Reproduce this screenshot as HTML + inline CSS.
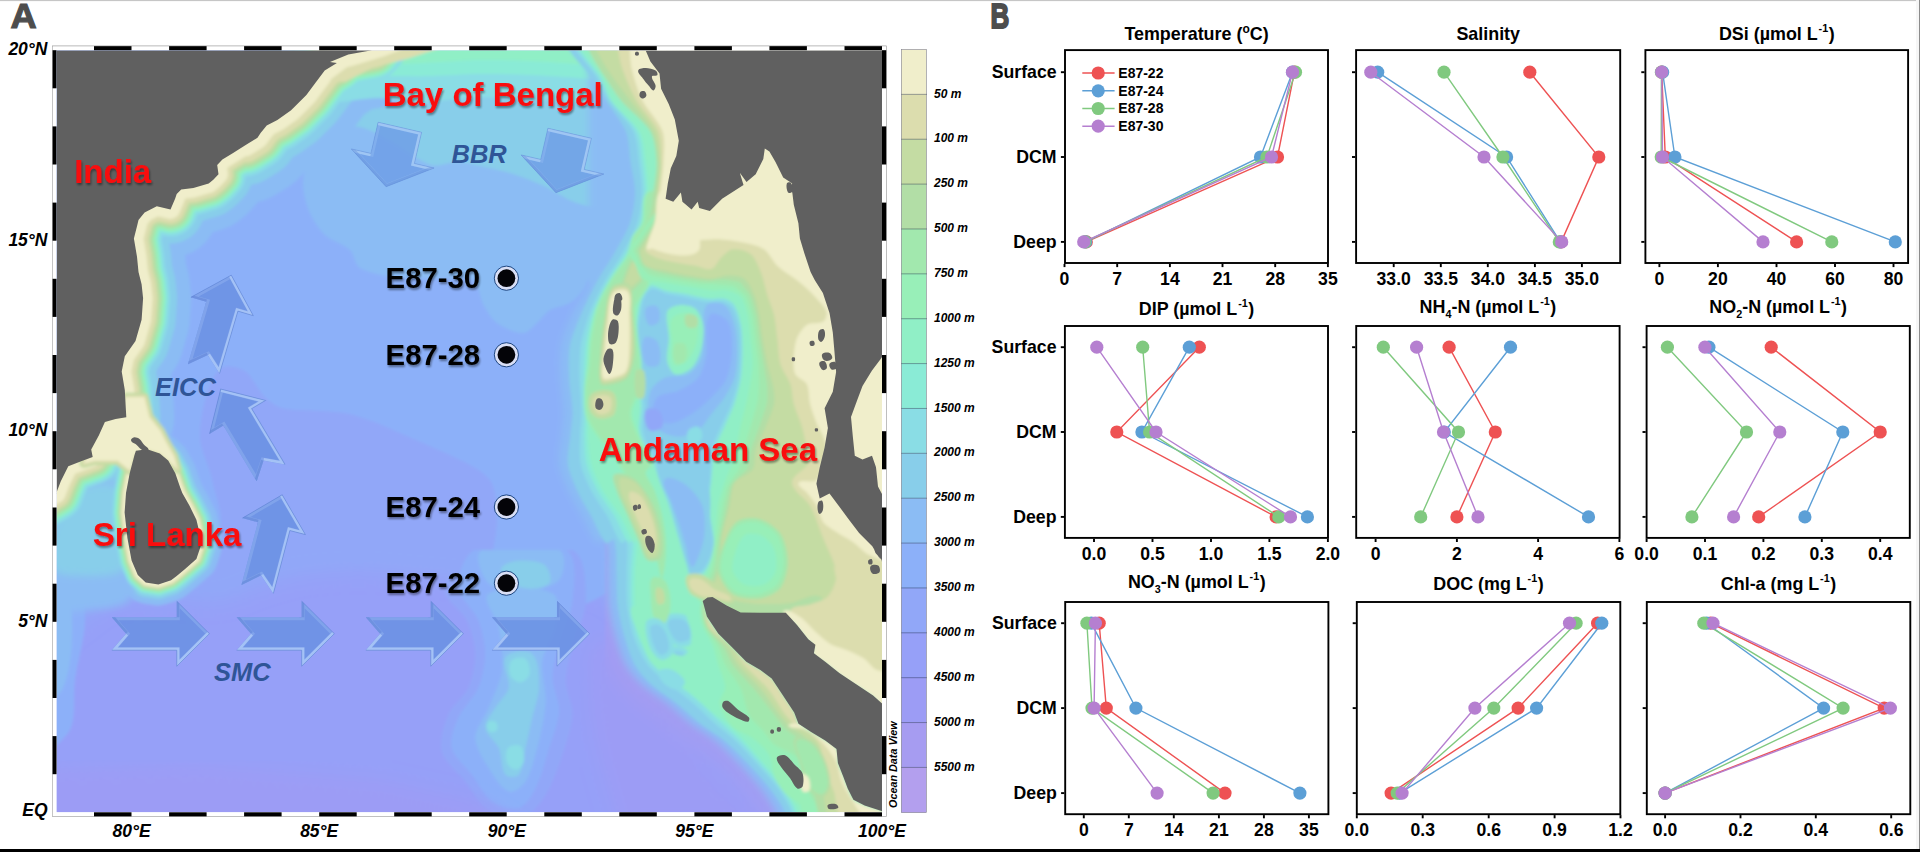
<!DOCTYPE html><html><head><meta charset="utf-8"><title>Figure</title>
<style>html,body{margin:0;padding:0;background:#fff}svg{display:block}text{font-family:"Liberation Sans",Arial,sans-serif}</style></head><body>
<svg width="1920" height="852" viewBox="0 0 1920 852">
<defs>
<filter id="bl" x="-5%" y="-5%" width="110%" height="110%"><feGaussianBlur stdDeviation="1.6"/></filter>
<filter id="bl3" x="-5%" y="-5%" width="110%" height="110%"><feGaussianBlur stdDeviation="9"/></filter>
<filter id="bl4" x="-10%" y="-10%" width="120%" height="120%"><feGaussianBlur stdDeviation="3.5"/></filter>
<filter id="bl2" x="-5%" y="-5%" width="110%" height="110%"><feGaussianBlur stdDeviation="0.5"/></filter>
<filter id="ds" x="-10%" y="-20%" width="125%" height="150%"><feGaussianBlur in="SourceAlpha" stdDeviation="1.1"/><feOffset dx="1.3" dy="1.5"/><feComponentTransfer><feFuncA type="linear" slope="0.42"/></feComponentTransfer><feMerge><feMergeNode/><feMergeNode in="SourceGraphic"/></feMerge></filter>
<clipPath id="mc"><rect x="56.5" y="50.2" width="825.5" height="762.0999999999999"/></clipPath>
</defs>
<rect width="1920" height="852" fill="#fff"/>
<g clip-path="url(#mc)">
<rect x="40" y="30" width="870" height="800" fill="#96a0f8"/>
<g filter="url(#bl)">
<rect x="40" y="30" width="870" height="800" fill="#96a0f8"/>
<path d="M40.0,650.0 C40.7,661.7 65.2,634.4 75.0,628.0 C85.0,621.4 98.6,607.8 110.0,604.0 C123.5,599.6 145.8,600.3 160.0,600.0 C177.0,599.7 203.1,604.0 220.0,602.0 C231.9,600.6 248.5,591.6 260.0,588.0 C271.2,584.5 288.4,578.9 300.0,577.0 C316.8,574.3 342.9,572.0 360.0,572.0 C377.1,572.0 403.0,575.6 420.0,577.0 C437.0,578.4 463.0,580.8 480.0,582.0 L560.0,587.0 C571.4,588.1 589.3,589.7 600.0,594.0 C609.6,597.9 623.0,607.3 630.0,615.0 C640.3,626.3 650.9,647.7 660.0,660.0 C670.8,674.6 688.3,696.2 700.0,710.0 C712.3,724.5 733.6,744.8 745.0,760.0 L790.0,830.0 L900.0,830.0 L900.0,30.0 L40.0,30.0 L40.0,650.0Z" fill="#91a7f8" filter="url(#bl3)"/>
<path d="M215.0,530.0 C228.6,526.0 214.3,494.0 212.0,480.0 C210.1,468.3 201.0,451.8 200.0,440.0 C199.0,428.6 201.8,411.0 205.0,400.0 C207.8,390.3 212.8,373.9 221.0,368.0 C226.5,364.0 239.3,367.3 245.0,371.0 C252.5,375.9 257.7,389.7 264.0,396.0 C268.3,400.3 276.0,406.5 282.0,408.0 C293.9,410.9 312.8,409.9 325.0,411.0 C332.1,411.6 343.1,412.3 350.0,414.0 C359.3,416.3 373.1,421.4 382.0,425.0 L448.0,454.0 C460.5,460.4 481.7,468.8 490.0,480.0 C496.9,489.2 496.7,508.5 497.0,520.0 C497.3,531.4 493.0,548.6 492.0,560.0 C491.0,571.3 488.9,588.7 490.0,600.0 C491.2,611.6 493.0,630.7 500.0,640.0 C503.4,644.5 514.9,642.4 520.0,640.0 C532.5,634.1 547.8,618.6 560.0,612.0 C567.9,607.7 582.0,606.1 590.0,602.0 C597.0,598.4 610.5,592.7 612.0,585.0 C614.5,572.2 605.3,552.6 602.0,540.0 C599.0,528.5 578.3,501.6 590.0,500.0 L900.0,500.0 L900.0,30.0 L40.0,30.0 L40.0,530.0 L215.0,530.0Z" fill="#8cb0f9"/>
<path d="M340.0,30.0 L340.0,110.0 C339.0,116.6 328.7,122.5 325.0,128.0 C319.9,135.6 312.4,147.5 309.0,156.0 C306.1,163.3 303.0,175.2 303.0,183.0 C303.0,191.1 305.8,203.5 309.0,211.0 C312.2,218.5 319.1,229.4 325.0,235.0 C331.0,240.7 344.0,244.3 350.0,250.0 C354.2,254.0 354.9,265.1 360.0,268.0 C370.2,273.7 388.4,276.8 400.0,278.0 L471.0,279.0 C479.1,281.7 479.7,298.7 484.0,306.0 C487.1,311.2 492.0,319.5 497.0,323.0 C503.5,327.5 515.1,333.0 523.0,333.0 C527.9,333.0 533.3,326.2 537.0,323.0 C541.0,319.6 545.5,312.7 550.0,310.0 C555.1,306.9 564.9,306.1 570.0,303.0 C574.5,300.3 579.7,294.0 583.0,290.0 C585.1,287.5 587.8,276.9 589.0,280.0 C593.3,290.6 594.6,308.5 595.0,320.0 C595.4,331.4 593.0,348.7 592.0,360.0 C591.0,371.3 589.7,388.7 588.0,400.0 C586.3,411.4 580.4,428.5 580.0,440.0 C579.6,451.4 582.2,468.9 585.0,480.0 C587.9,491.7 588.0,518.5 600.0,520.0 L900.0,520.0 L900.0,30.0 L340.0,30.0Z" fill="#8bbcf4"/>
<path d="M320.0,30.0 L325.0,112.0 C325.5,116.7 325.6,126.1 330.0,128.0 C337.8,131.4 351.7,125.2 360.0,127.0 C369.4,129.0 382.5,136.5 391.0,141.0 C402.7,147.2 418.4,161.0 431.0,165.0 C438.3,167.3 450.3,161.6 458.0,162.0 C466.9,162.5 480.3,166.1 489.0,168.0 C495.8,169.5 506.3,171.8 513.0,174.0 C522.0,176.9 535.4,182.1 544.0,186.0 C552.8,190.0 564.9,198.8 574.0,202.0 C580.5,204.3 592.1,208.6 598.0,205.0 C609.8,197.8 621.6,179.0 630.0,168.0 C633.5,163.4 638.8,155.7 640.0,150.0 L660.0,30.0 L320.0,30.0Z" fill="#88ceea"/>
<path d="M380.0,40.0 L372.0,50.2 L348.3,54.6 L330.0,62.0 L336.9,62.9 L324.7,70.5 L315.5,82.7 L306.4,94.9 L291.1,110.2 L277.4,120.0 L266.7,125.5 L260.6,133.1 L257.5,137.7 L245.3,145.3" fill="none" stroke="#8bbcf4" stroke-width="116.0" stroke-linejoin="round" stroke-linecap="round"/><path d="M257.5,137.7 L245.3,145.3 L233.1,152.9 L222.4,159.6 L217.2,165.1 L218.5,174.3 L213.3,179.8 L208.7,183.4 L193.4,188.0 L181.2,189.5 L176.7,194.1 L175.1,198.7 L170.5,209.4 L156.8,206.3 L144.6,212.4 L138.5,220.1 L137.0,226.2 L133.9,238.4 L137.0,256.7 L138.5,271.9 L141.6,284.2 L143.1,298.3 L141.6,319.7 L135.5,341.0 L124.8,356.3 L121.7,371.6 L124.8,389.9 L126.3,417.3 L115.6,418.9 L104.9,421.9 L98.8,435.6 L91.2,449.4 L92.7,457.0 L80.5,461.6 L68.3,466.2 L60.7,481.4 L56.1,493.6 L45.0,500.0" fill="none" stroke="#8bbcf4" stroke-width="96.0" stroke-linejoin="round" stroke-linecap="round"/><path d="M135.9,450.7 L147.1,449.3 L159.8,453.5 L168.2,460.5 L175.3,473.2 L180.1,487.3 L182.3,492.9 L189.4,505.6 L196.4,519.7 L200.1,535.1 L200.6,546.4 L196.4,559.1 L185.1,568.9 L176.7,576.0 L171.1,580.2 L158.4,584.4 L145.7,582.4 L137.8,575.1 L131.6,560.5 L127.4,538.0 L124.6,512.6 L126.0,492.9 L129.7,473.2 L134.5,454.9Z" fill="none" stroke="#8bbcf4" stroke-width="42.0" stroke-linejoin="round" stroke-linecap="round"/><path d="M380.0,40.0 L372.0,50.2 L348.3,54.6 L330.0,62.0 L336.9,62.9 L324.7,70.5 L315.5,82.7 L306.4,94.9 L291.1,110.2 L277.4,120.0 L266.7,125.5 L260.6,133.1 L257.5,137.7 L245.3,145.3" fill="none" stroke="#88ceea" stroke-width="80.0" stroke-linejoin="round" stroke-linecap="round"/><path d="M257.5,137.7 L245.3,145.3 L233.1,152.9 L222.4,159.6 L217.2,165.1 L218.5,174.3 L213.3,179.8 L208.7,183.4 L193.4,188.0 L181.2,189.5 L176.7,194.1 L175.1,198.7 L170.5,209.4 L156.8,206.3 L144.6,212.4 L138.5,220.1 L137.0,226.2 L133.9,238.4 L137.0,256.7 L138.5,271.9 L141.6,284.2 L143.1,298.3 L141.6,319.7 L135.5,341.0 L124.8,356.3 L121.7,371.6 L124.8,389.9 L126.3,417.3 L115.6,418.9 L104.9,421.9 L98.8,435.6 L91.2,449.4 L92.7,457.0 L80.5,461.6 L68.3,466.2 L60.7,481.4 L56.1,493.6 L45.0,500.0" fill="none" stroke="#88ceea" stroke-width="68.0" stroke-linejoin="round" stroke-linecap="round"/><path d="M135.9,450.7 L147.1,449.3 L159.8,453.5 L168.2,460.5 L175.3,473.2 L180.1,487.3 L182.3,492.9 L189.4,505.6 L196.4,519.7 L200.1,535.1 L200.6,546.4 L196.4,559.1 L185.1,568.9 L176.7,576.0 L171.1,580.2 L158.4,584.4 L145.7,582.4 L137.8,575.1 L131.6,560.5 L127.4,538.0 L124.6,512.6 L126.0,492.9 L129.7,473.2 L134.5,454.9Z" fill="none" stroke="#88ceea" stroke-width="30.0" stroke-linejoin="round" stroke-linecap="round"/>
<path d="M305.0,30.0 C286.5,33.5 298.1,83.4 312.0,96.0 C326.3,108.9 360.8,96.9 380.0,98.0 C391.4,98.6 408.6,102.0 420.0,102.0 C434.2,102.0 455.8,98.6 470.0,98.0 C484.2,97.4 505.8,97.4 520.0,98.0 C534.2,98.6 555.8,100.7 570.0,102.0 C581.3,103.0 598.6,106.7 610.0,106.0 C617.4,105.5 630.9,104.2 635.0,98.0 L660.0,30.0 L305.0,30.0Z" fill="#8adde5"/>
<path d="M310.0,30.0 C296.8,31.8 308.4,69.4 320.0,76.0 C337.2,85.9 370.2,76.0 390.0,76.0 C401.3,76.0 418.7,76.3 430.0,76.0 C444.2,75.7 465.8,74.1 480.0,74.0 C494.2,73.9 515.8,74.4 530.0,75.0 C544.2,75.6 565.9,76.8 580.0,78.0 C589.9,78.8 605.1,83.3 615.0,82.0 C622.8,81.0 634.9,75.9 640.0,70.0 C648.3,60.4 672.6,31.5 660.0,30.0 L310.0,30.0Z" fill="#8aebd6"/>
<path d="M315.0,30.0 C304.7,31.1 318.4,60.2 328.0,64.0 L400.0,64.0 C411.3,63.8 428.7,62.6 440.0,62.0 C451.3,61.4 468.7,60.1 480.0,60.0 C494.2,59.8 515.8,60.4 530.0,61.0 C542.8,61.5 562.3,62.8 575.0,64.0 C583.5,64.8 596.4,68.6 605.0,68.0 C612.4,67.5 624.3,64.8 630.0,60.0 C637.8,53.4 660.2,31.0 650.0,30.0 L315.0,30.0Z" fill="#90efc6"/>
<path d="M445.1,590.2 C445.4,577.0 456.0,553.9 468.6,549.9 L572.5,549.9 C586.1,555.7 586.0,585.4 586.0,600.2 C586.0,614.1 575.9,633.8 572.5,647.2 C570.1,656.6 565.8,671.1 565.8,680.8 C565.8,690.5 572.9,704.6 572.5,714.3 C572.0,726.0 566.2,743.4 562.5,754.5 C558.6,766.2 552.3,784.3 545.7,794.8 C540.7,802.8 531.2,815.6 522.2,818.3 C512.9,821.0 496.8,816.9 488.7,811.6 C479.6,805.7 471.9,790.0 465.2,781.4 C458.5,772.8 444.3,761.7 441.7,751.2 C439.1,740.9 444.3,724.1 448.4,714.3 C452.1,705.5 464.7,696.2 468.6,687.5 C472.5,678.6 475.5,663.6 475.3,653.9 C475.1,644.1 471.1,629.2 466.9,620.4 C462.4,610.9 444.8,600.8 445.1,590.2Z" fill="#91a7f8"/>
<path d="M458.5,586.8 C458.0,575.3 464.4,553.6 475.3,549.9 L565.8,549.9 C578.6,556.5 573.5,585.9 572.5,600.2 C571.6,613.1 562.4,631.4 559.1,643.9 C556.7,653.3 552.4,667.7 552.4,677.4 C552.4,687.1 559.6,701.2 559.1,710.9 C558.6,721.7 552.3,737.4 549.1,747.8 C545.6,759.3 541.0,777.3 535.6,788.1 C532.3,794.7 526.0,806.0 518.9,808.2 C511.4,810.5 498.4,806.1 492.0,801.5 C484.3,796.0 477.6,782.3 471.9,774.7 C466.2,767.1 454.0,757.1 451.8,747.8 C449.8,739.3 454.9,725.6 458.5,717.6 C462.7,708.2 474.6,697.0 478.6,687.5 C482.4,678.6 485.3,663.6 485.3,653.9 C485.3,644.2 482.2,629.4 478.6,620.4 C474.5,610.1 459.0,597.9 458.5,586.8Z" fill="#8cb0f9"/>
<path d="M488.7,593.5 C504.0,583.9 536.3,585.4 552.4,593.5 C561.0,597.8 557.2,617.6 555.8,627.1 C554.3,637.2 543.8,650.5 542.4,660.6 C540.8,672.0 546.2,689.5 545.7,700.9 C545.2,712.4 541.8,729.9 539.0,741.1 C536.1,752.8 531.8,771.1 525.6,781.4 C522.7,786.1 514.0,793.3 508.8,791.4 C500.6,788.4 493.3,775.4 488.7,768.0 C483.7,760.1 475.3,747.2 475.3,737.8 C475.3,728.4 485.2,716.3 488.7,707.6 C492.8,697.3 500.7,681.7 502.1,670.7 C503.6,658.4 500.9,639.3 498.8,627.1 C497.1,617.3 480.3,598.8 488.7,593.5Z" fill="#8bbcf4"/>
<path d="M482.0,549.9 L559.1,549.9 C567.1,553.0 564.6,573.5 559.1,580.1 C552.8,587.7 535.5,589.7 525.6,590.2 C515.0,590.7 496.5,590.7 488.7,583.5 C481.6,576.9 473.2,554.1 482.0,549.9Z" fill="#8bbcf4"/>
<path d="M505.5,657.3 C509.9,651.0 526.6,648.8 532.3,653.9 C539.5,660.4 539.0,677.8 539.0,687.5 C539.0,696.2 534.2,709.1 532.3,717.6 C530.4,726.2 527.6,739.3 525.6,747.8 C523.8,755.4 523.6,768.4 518.9,774.7 C516.6,777.7 507.8,777.7 505.5,774.7 C500.8,768.4 501.9,755.0 498.8,747.8 C496.1,741.5 485.9,734.5 485.3,727.7 C484.8,721.3 492.2,713.1 495.4,707.6 C498.9,701.7 507.5,694.2 508.8,687.5 C510.5,679.1 500.6,664.4 505.5,657.3Z" fill="#88ceea"/>
<path d="M502.1,566.7 C510.2,558.6 531.6,559.5 542.4,563.4 C548.1,565.4 553.4,579.3 549.1,583.5 C543.0,589.6 527.0,589.7 518.9,586.8 C511.9,584.3 496.8,571.9 502.1,566.7Z" fill="#88ceea"/>
<path d="M511.5,660.6 C514.2,657.6 522.4,656.5 525.6,658.9 C529.2,661.5 530.5,669.7 529.6,674.0 C528.9,677.4 524.1,682.1 520.6,682.4 C517.2,682.7 511.8,678.9 510.5,675.7 C508.8,671.7 508.6,663.8 511.5,660.6Z" fill="#8adde5"/>
<path d="M488.0,722.3 C489.5,720.5 494.4,720.7 496.1,722.3 C497.8,723.9 498.2,728.6 496.7,730.4 C495.2,732.1 490.4,732.7 488.7,731.1 C486.9,729.4 486.4,724.2 488.0,722.3Z" fill="#8adde5"/>
<path d="M508.1,747.8 C510.3,745.0 517.9,743.9 520.6,746.2 C523.9,749.0 524.7,756.9 523.9,761.2 C523.3,764.4 519.4,769.3 516.2,769.6 C513.0,769.9 508.2,765.9 507.1,762.9 C505.6,758.9 505.4,751.1 508.1,747.8Z" fill="#8adde5"/>
<path d="M40.0,560.0 C42.0,549.9 68.8,561.7 75.0,570.0 C83.7,581.6 85.0,605.6 85.0,620.0 C85.0,637.2 77.3,662.9 75.0,680.0 C73.1,694.1 76.4,717.3 70.0,730.0 C65.4,739.1 41.8,760.1 40.0,750.0 L40.0,560.0Z" fill="#8cb0f9"/>
<path d="M40.0,575.0 C41.7,567.3 62.5,577.9 66.0,585.0 C72.9,599.1 72.6,624.3 72.0,640.0 C71.5,654.4 68.8,677.3 62.0,690.0 C58.8,696.0 41.3,706.7 40.0,700.0 L40.0,575.0Z" fill="#8bbcf4"/>
<path d="M30.0,770.0 L200.0,765.0 L380.0,780.0 L470.0,800.0 C486.7,807.1 538.1,838.4 520.0,840.0 L30.0,840.0 C10.4,837.2 11.9,778.0 30.0,770.0Z" fill="#9c9cf5" filter="url(#bl3)"/>
<path d="M600.0,640.0 C614.9,634.0 629.4,668.0 640.0,680.0 C652.1,693.6 668.7,715.8 680.0,730.0 C691.3,744.2 708.7,765.8 720.0,780.0 C731.3,794.2 776.2,821.9 760.0,830.0 L620.0,830.0 L600.0,760.0 C596.1,743.2 590.0,717.2 590.0,700.0 C590.0,682.8 584.0,646.4 600.0,640.0Z" fill="#9c9cf5" filter="url(#bl3)"/>
<path d="M614.2,540.0 C614.9,549.3 616.0,563.6 616.5,572.9 C617.0,582.2 616.6,596.5 617.8,605.7 C619.0,615.2 622.5,629.4 625.1,638.6 C627.3,646.2 631.0,658.0 634.9,664.9 C638.5,671.2 646.0,679.7 651.4,684.6 C658.2,690.9 670.4,698.5 677.7,704.3 C684.4,709.7 693.9,718.8 700.7,724.1 C707.1,729.1 718.0,735.3 724.3,740.5 C731.5,746.5 741.5,756.7 748.0,763.5 C754.0,769.8 763.0,779.7 768.4,786.5 C772.7,791.8 778.6,800.4 782.2,806.2 C786.2,812.5 791.6,822.7 795.3,829.2" fill="none" stroke="#a69cf1" stroke-width="46" stroke-linecap="round" opacity="0.8" filter="url(#bl3)"/>
<path d="M588.8,280.0 C588.2,290.4 576.8,303.3 572.7,312.9 C568.8,322.0 562.7,336.0 560.9,345.7 C559.2,354.9 559.8,369.3 560.2,378.6 C560.6,388.0 563.3,402.1 563.5,411.5 C563.7,418.0 562.1,428.0 561.5,434.5 C560.8,442.9 557.9,455.7 558.9,464.1 C559.8,471.9 564.9,483.2 568.1,490.4 C571.6,498.2 578.5,509.2 582.6,516.7 C586.7,524.1 591.1,536.8 597.0,542.9 C598.7,544.7 604.4,537.7 605.2,540.0 C608.3,548.8 607.0,563.6 607.5,572.9 C608.0,582.2 607.6,596.5 608.8,605.7 C610.0,615.2 613.5,629.4 616.1,638.6 C618.3,646.2 622.0,658.0 625.9,664.9 C629.5,671.2 637.0,679.7 642.4,684.6 C649.2,690.9 661.4,698.5 668.7,704.3 C675.4,709.7 684.9,718.8 691.7,724.1 C698.1,729.1 709.0,735.3 715.3,740.5 C722.5,746.5 732.5,756.7 739.0,763.5 C745.0,769.8 754.0,779.7 759.4,786.5 C763.7,791.8 769.6,800.4 773.2,806.2 C777.2,812.5 778.9,828.0 786.3,829.2 L910.0,829.2 L910.0,10.0 L588.8,10.0 L588.8,280.0Z" fill="#8bbcf4" filter="url(#bl4)"/>
<path d="M563.4,33.9 C564.2,38.9 566.8,46.4 569.5,50.7 C574.6,58.7 585.2,68.9 590.8,76.6 C595.6,83.2 601.7,94.2 606.1,101.1 C611.6,109.8 622.1,122.0 625.9,131.6 C629.1,139.7 629.2,153.5 630.5,162.1 C631.8,170.7 635.2,183.9 635.1,192.6 C635.0,201.4 632.8,214.9 629.9,223.2 C626.7,232.4 618.8,245.2 614.0,253.7 C609.7,261.3 602.0,272.3 597.8,280.0 C592.8,289.1 585.8,303.3 581.7,312.9 C577.8,322.0 571.7,336.0 569.9,345.7 C568.2,354.9 568.8,369.3 569.2,378.6 C569.6,388.0 572.3,402.1 572.5,411.5 C572.7,418.0 571.1,428.0 570.5,434.5 C569.8,442.9 566.9,455.7 567.9,464.1 C568.8,471.9 573.9,483.2 577.1,490.4 C580.6,498.2 587.5,509.2 591.6,516.7 C595.7,524.1 600.1,536.8 606.0,542.9 C607.7,544.7 613.4,537.7 614.2,540.0 C617.3,548.8 616.0,563.6 616.5,572.9 C617.0,582.2 616.6,596.5 617.8,605.7 C619.0,615.2 622.5,629.4 625.1,638.6 C627.3,646.2 631.0,658.0 634.9,664.9 C638.5,671.2 646.0,679.7 651.4,684.6 C658.2,690.9 670.4,698.5 677.7,704.3 C684.4,709.7 693.9,718.8 700.7,724.1 C707.1,729.1 718.0,735.3 724.3,740.5 C731.5,746.5 741.5,756.7 748.0,763.5 C754.0,769.8 763.0,779.7 768.4,786.5 C772.7,791.8 778.6,800.4 782.2,806.2 C786.2,812.5 787.9,827.9 795.3,829.2 L910.0,829.2 L910.0,10.0 L563.4,10.0 C556.6,10.5 562.4,27.2 563.4,33.9Z" fill="#88ceea"/>
<path d="M570.1,33.9 C570.9,38.9 573.5,46.4 576.2,50.7 C581.2,58.6 591.5,68.8 596.7,76.6 C601.0,83.1 605.1,94.6 609.5,101.1 C615.6,110.2 628.7,121.7 633.5,131.6 C637.3,139.5 637.7,153.4 638.9,162.1 C640.1,170.7 642.4,183.9 642.1,192.6 C641.9,201.4 640.0,214.9 637.3,223.2 C634.3,232.4 626.9,245.3 622.2,253.7 C617.9,261.4 609.8,272.3 605.6,280.0 C600.6,289.1 593.3,303.2 589.7,312.9 C586.3,321.9 582.2,336.2 580.7,345.7 C579.3,354.9 579.4,369.3 579.5,378.6 C579.6,387.9 581.4,402.2 581.5,411.5 C581.6,418.0 580.2,428.0 580.1,434.5 C579.9,442.9 579.1,455.9 580.7,464.1 C582.3,472.0 587.5,483.3 591.2,490.4 C595.2,498.2 603.3,509.1 607.7,516.7 C611.8,524.0 616.1,536.4 621.4,542.9 C622.5,544.3 626.6,538.3 626.9,540.0 C628.4,549.2 626.6,563.6 626.6,572.9 C626.7,582.2 626.1,596.5 627.2,605.7 C628.3,615.2 631.3,629.6 634.5,638.6 C637.3,646.5 642.8,658.3 647.9,664.9 C653.0,671.5 663.5,679.2 669.8,684.6 C676.6,690.4 687.6,698.5 694.3,704.3 C700.5,709.7 709.3,718.7 715.5,724.1 C720.9,728.9 729.9,735.5 735.2,740.5 C741.6,746.7 750.7,756.9 756.7,763.5 C762.5,769.9 771.5,779.6 776.7,786.5 C780.7,791.8 785.9,800.5 789.2,806.2 C792.9,812.6 794.2,827.8 801.5,829.2 L910.0,829.2 L910.0,10.0 L570.1,10.0 C563.4,10.5 569.1,27.2 570.1,33.9Z" fill="#8adde5"/>
<path d="M573.2,33.9 C573.9,38.9 576.6,46.4 579.3,50.7 C584.1,58.6 594.4,68.7 599.4,76.6 C603.5,83.1 606.6,94.8 611.0,101.1 C617.4,110.5 631.7,121.5 636.9,131.6 C641.0,139.4 641.5,153.4 642.7,162.1 C643.9,170.7 645.6,183.9 645.3,192.6 C645.0,201.4 643.3,214.8 640.6,223.2 C637.7,232.3 630.7,245.3 626.0,253.7 C621.7,261.4 613.4,272.2 609.1,280.0 C604.1,289.0 596.8,303.2 593.3,312.9 C590.1,321.9 587.0,336.2 585.7,345.7 C584.4,354.9 584.2,369.3 584.2,378.6 C584.2,387.9 585.6,402.2 585.6,411.5 C585.7,418.0 584.3,428.0 584.4,434.5 C584.6,442.9 584.6,455.9 586.5,464.1 C588.4,472.0 593.7,483.3 597.6,490.4 C601.8,498.3 610.4,509.0 615.0,516.7 C619.2,523.9 623.4,536.2 628.4,542.9 C629.3,544.1 632.5,538.6 632.6,540.0 C633.5,549.3 631.4,563.6 631.2,572.9 C631.1,582.2 630.4,596.5 631.5,605.7 C632.6,615.2 635.4,629.7 638.8,638.6 C641.8,646.6 648.3,658.4 653.9,664.9 C659.6,671.6 671.3,679.0 678.2,684.6 C684.9,690.1 695.4,698.5 701.9,704.3 C707.8,709.7 716.4,718.6 722.2,724.1 C727.2,728.8 735.3,735.6 740.1,740.5 C746.2,746.7 754.9,756.9 760.6,763.5 C766.3,770.0 775.3,779.6 780.5,786.5 C784.4,791.7 789.3,800.5 792.4,806.2 C796.0,812.6 797.1,827.8 804.3,829.2 L910.0,829.2 L910.0,10.0 L573.2,10.0 C566.4,10.5 572.2,27.2 573.2,33.9Z" fill="#8aebd6"/>
<path d="M575.6,33.9 C576.4,38.9 579.1,46.4 581.7,50.7 C586.5,58.6 596.7,68.7 601.5,76.6 C605.4,83.1 607.9,94.9 612.2,101.1 C618.8,110.7 634.1,121.4 639.7,131.6 C644.0,139.3 644.6,153.4 645.8,162.1 C647.0,170.7 648.3,183.9 647.9,192.6 C647.5,201.4 645.9,214.8 643.3,223.2 C640.5,232.3 633.6,245.3 629.0,253.7 C624.7,261.5 616.2,272.2 611.9,280.0 C606.9,289.0 599.5,303.1 596.2,312.9 C593.2,321.9 590.8,336.3 589.6,345.7 C588.4,355.0 588.0,369.3 587.9,378.6 C587.8,387.9 588.9,402.2 588.9,411.5 C588.9,418.0 587.6,428.0 587.9,434.5 C588.3,442.9 589.0,455.9 591.2,464.1 C593.3,472.0 598.7,483.3 602.7,490.4 C607.1,498.3 616.2,508.9 620.8,516.7 C625.1,523.8 629.2,536.1 634.0,542.9 C634.7,543.9 637.2,538.8 637.2,540.0 C637.5,549.3 635.2,563.6 634.9,572.9 C634.6,582.2 633.9,596.5 634.9,605.7 C636.0,615.2 638.7,629.7 642.2,638.6 C645.5,646.8 652.6,658.5 658.6,664.9 C664.9,671.7 677.6,678.8 684.9,684.6 C691.6,690.0 701.6,698.5 707.9,704.3 C713.7,709.7 722.0,718.5 727.6,724.1 C732.3,728.8 739.6,735.6 744.1,740.5 C749.9,746.8 758.2,757.0 763.8,763.5 C769.4,770.0 778.4,779.6 783.5,786.5 C787.3,791.7 791.9,800.5 795.0,806.2 C798.5,812.6 799.4,827.8 806.5,829.2 L910.0,829.2 L910.0,10.0 L575.6,10.0 C568.8,10.5 574.6,27.2 575.6,33.9Z" fill="#90efc6"/>
<path d="M650.7,285.5 C655.0,284.6 661.2,289.4 665.5,290.4 C671.0,291.7 679.6,292.6 685.2,293.7 C691.7,295.0 701.6,297.8 708.2,298.6 C712.8,299.2 720.1,297.5 724.6,298.6 C727.9,299.4 732.7,302.3 734.5,305.2 C737.6,310.2 740.0,319.1 741.1,324.9 C742.3,331.3 742.7,341.4 742.7,347.9 C742.7,356.3 742.3,369.2 741.1,377.5 C740.0,385.1 736.9,396.5 734.5,403.8 C732.2,410.5 727.4,420.3 724.6,426.8 C721.8,433.3 716.5,442.9 714.8,449.8 C712.7,458.2 712.4,471.5 711.5,480.1 C710.7,487.4 708.9,498.4 708.9,505.7 C708.9,511.4 710.8,519.9 711.5,525.5 C712.3,532.0 715.0,542.0 714.1,548.5 C713.1,555.4 709.1,565.9 704.9,571.5 C702.4,574.8 695.7,579.5 691.8,578.1 C688.0,576.7 688.1,568.7 686.8,564.9 C684.3,557.5 680.9,546.1 678.6,538.6 C675.8,529.3 671.9,514.9 668.8,505.7 C666.3,498.1 661.6,486.9 658.9,479.4 C656.9,473.9 654.7,465.1 652.3,459.7 C650.9,456.6 647.1,452.9 645.7,449.8 C643.3,444.4 639.8,435.9 639.2,430.1 C638.4,422.7 641.3,411.3 640.8,403.8 C640.3,396.2 636.8,385.0 635.9,377.5 C634.9,369.2 634.0,356.3 634.2,347.9 C634.4,339.5 636.2,326.6 637.5,318.3 C638.5,311.7 640.0,301.5 642.5,295.3 C643.9,291.9 647.2,286.3 650.7,285.5Z" fill="#8adde5"/>
<path d="M651.7,288.9 C655.9,288.0 661.9,292.8 666.1,293.8 C671.5,295.2 679.9,296.1 685.3,297.2 C691.6,298.5 701.2,301.3 707.6,302.0 C712.1,302.6 719.2,300.8 723.6,301.9 C726.7,302.7 731.4,305.6 733.1,308.4 C736.1,313.4 738.3,322.2 739.3,327.9 C740.4,334.3 740.6,344.2 740.5,350.6 C740.3,358.8 739.7,371.5 738.3,379.6 C737.0,386.8 733.7,397.7 731.1,404.7 C728.8,410.9 723.9,419.8 721.2,425.8 C718.6,431.8 714.0,440.7 712.6,447.1 C710.8,455.3 711.0,468.4 710.3,476.8 C709.7,484.0 708.0,495.0 708.1,502.3 C708.2,508.0 710.1,516.5 710.8,522.1 C711.6,528.6 714.3,538.6 713.4,545.1 C712.5,552.0 708.6,562.4 704.5,568.0 C702.1,571.3 695.5,576.0 691.7,574.6 C688.0,573.2 688.1,565.2 686.8,561.4 C684.4,554.0 681.0,542.6 678.9,535.1 C676.1,525.8 672.4,511.5 669.5,502.3 C667.2,494.8 662.8,483.6 660.4,476.2 C658.6,470.8 656.7,462.2 654.5,457.0 C653.3,454.1 649.7,450.5 648.4,447.6 C646.3,442.6 643.1,434.6 642.6,429.1 C641.9,422.2 644.7,411.6 644.2,404.7 C643.6,397.4 639.7,386.8 638.7,379.6 C637.5,371.5 636.3,358.9 636.4,350.7 C636.4,342.3 637.9,329.7 639.1,321.4 C640.0,314.9 641.4,304.7 643.7,298.6 C645.0,295.3 648.2,289.6 651.7,288.9Z" fill="#88ceea"/>
<path d="M706.6,305.2 C709.8,301.2 720.4,302.3 724.6,305.2 C729.7,308.8 732.9,318.9 734.5,324.9 C736.5,332.1 737.1,343.7 737.1,351.2 C737.1,358.7 736.5,370.3 734.5,377.5 C732.9,383.5 728.0,391.9 724.6,397.2 C721.4,402.2 715.2,409.0 711.5,413.7 C707.8,418.4 703.2,426.7 698.3,430.1 C693.5,433.5 684.5,436.7 678.6,436.7 C672.7,436.7 663.5,433.7 658.9,430.1 C654.6,426.8 650.1,419.0 649.0,413.7 C647.7,407.3 648.0,396.6 650.7,390.7 C653.0,385.6 660.4,379.7 665.5,377.5 C671.5,374.9 682.7,377.4 688.5,374.2 C693.7,371.4 699.7,363.4 701.6,357.8 C704.0,350.7 702.6,338.9 703.3,331.5 C704.0,324.0 701.9,311.0 706.6,305.2Z" fill="#8bbcf4"/>
<path d="M709.9,315.1 C712.8,310.5 725.1,317.0 727.9,321.6 C732.3,328.8 732.1,342.7 731.9,351.2 C731.7,359.3 729.6,371.8 726.3,379.2 C723.6,385.2 716.2,392.5 711.5,397.2 C706.4,402.3 698.0,409.9 691.8,413.7 C685.8,417.4 675.9,423.5 668.8,423.5 C663.8,423.5 656.0,418.3 654.0,413.7 C652.1,409.3 653.8,400.5 657.3,397.2 C661.9,392.9 672.9,393.4 678.6,390.7 C684.7,387.8 694.2,382.8 698.3,377.5 C702.5,372.0 705.3,361.3 706.6,354.5 C708.6,343.5 703.8,324.5 709.9,315.1Z" fill="#8cb0f9"/>
<path d="M645.7,410.4 C647.4,407.1 656.2,407.8 658.9,410.4 C662.3,413.7 664.3,422.6 662.2,426.8 C660.5,430.2 651.7,432.8 649.0,430.1 C645.0,426.1 643.2,415.5 645.7,410.4Z" fill="#91a7f8"/>
<path d="M645.7,308.5 C647.1,305.5 654.9,304.5 657.3,306.8 C660.3,309.8 660.7,317.8 658.9,321.6 C657.7,324.3 651.1,327.0 649.0,324.9 C645.6,321.6 643.7,312.8 645.7,308.5Z" fill="#8bbcf4"/>
<path d="M644.1,338.1 C645.8,334.7 655.4,338.0 657.3,341.4 C660.5,347.1 661.8,358.6 658.9,364.4 C657.2,367.7 647.5,367.7 645.7,364.4 C642.0,357.9 640.7,344.8 644.1,338.1Z" fill="#8bbcf4"/>
<path d="M658.9,463.0 C664.9,459.1 677.1,464.9 683.6,467.9 C691.3,471.5 703.2,478.7 707.6,486.0 C711.4,492.4 710.2,504.8 710.2,512.3 C710.2,519.8 708.9,531.2 707.6,538.6 C706.4,545.4 704.1,555.9 701.6,562.3 C700.1,566.2 697.6,574.2 693.4,574.8 C689.9,575.3 688.0,567.6 686.8,564.3 C684.2,557.2 682.2,545.9 680.3,538.6 C677.8,529.3 674.6,514.8 671.4,505.7 C669.1,498.9 662.9,489.6 660.9,482.7 C659.3,477.3 654.2,466.1 658.9,463.0Z" fill="#88ceea"/>
<path d="M664.8,479.4 C668.4,474.7 680.3,481.0 685.2,484.4 C691.5,488.8 699.6,498.5 702.3,505.7 C705.3,513.6 705.0,526.9 704.3,535.3 C703.7,542.1 700.2,552.0 697.7,558.3 C696.6,561.0 693.8,568.7 691.8,566.6 C687.6,562.2 687.6,551.7 685.9,545.9 C683.9,539.2 680.8,528.9 678.6,522.2 C676.7,516.6 673.2,508.2 671.4,502.5 C669.3,496.0 660.7,484.8 664.8,479.4Z" fill="#8bbcf4"/>
<path d="M666.1,615.9 C671.3,612.0 684.2,613.1 689.1,617.5 C694.2,622.1 696.7,634.7 694.4,641.2 C692.8,645.6 683.2,647.5 678.6,646.4 C673.9,645.3 667.9,639.1 666.1,634.6 C664.1,629.7 661.8,619.1 666.1,615.9Z" fill="#8adde5"/>
<path d="M669.4,620.1 C673.2,617.4 682.4,618.4 685.9,621.5 C689.5,624.6 691.4,633.4 689.8,637.9 C688.7,641.1 681.8,642.7 678.6,641.8 C675.2,640.9 671.5,635.9 670.1,632.6 C668.7,629.3 666.5,622.1 669.4,620.1Z" fill="#88ceea"/>
<path d="M670.7,649.1 C672.8,644.7 684.7,647.2 687.8,651.0 C692.0,656.1 693.9,668.1 691.1,674.1 C689.1,678.2 678.2,680.8 675.3,677.3 C670.2,671.0 667.2,656.4 670.7,649.1Z" fill="#8adde5"/>
<path d="M674.0,653.0 C675.1,650.2 682.7,651.9 684.5,654.3 C687.3,658.1 688.9,666.4 687.2,670.8 C686.2,673.5 679.0,675.7 677.3,673.4 C673.8,668.7 671.9,658.5 674.0,653.0Z" fill="#88ceea"/>
<path d="M667.1,311.8 C668.2,308.2 674.9,305.6 678.6,305.2 C683.3,304.6 691.4,305.5 695.1,308.5 C699.2,311.7 702.5,319.8 703.3,324.9 C704.4,331.3 703.3,341.6 701.6,347.9 C700.0,353.9 696.2,363.3 691.8,367.7 C688.2,371.3 680.2,375.5 675.3,374.2 C671.1,373.1 667.9,365.4 667.1,361.1 C665.9,354.7 668.8,344.6 668.8,338.1 C668.8,330.6 665.0,319.0 667.1,311.8Z" fill="#90efc6"/>
<path d="M672.0,318.3 C675.3,313.6 686.4,311.4 691.8,313.4 C696.1,315.0 697.9,323.6 698.3,328.2 C698.8,333.8 697.1,342.6 695.1,347.9 C693.3,352.6 689.2,359.6 685.2,362.7 C682.6,364.7 675.4,367.2 673.7,364.4 C670.3,358.8 672.2,347.9 672.0,341.4 C671.8,334.9 668.2,323.6 672.0,318.3Z" fill="#98efb8"/>
<path d="M685.9,315.1 C688.1,312.9 694.6,314.4 696.7,316.7 C698.6,318.7 698.7,324.6 696.7,326.6 C694.7,328.6 688.7,328.6 686.8,326.6 C684.6,324.2 683.6,317.4 685.9,315.1Z" fill="#b2dea6"/>
<path d="M674.7,344.6 C676.1,342.0 683.6,342.1 685.2,344.6 C687.7,348.5 687.4,357.0 685.2,361.1 C683.8,363.6 676.8,365.1 675.3,362.7 C672.5,358.4 672.2,349.1 674.7,344.6Z" fill="#a2e8ae"/>
<path d="M688.5,430.1 C690.2,427.7 695.7,425.5 698.3,426.8 C701.0,428.1 702.8,433.7 702.3,436.7 C701.8,439.7 698.0,443.9 695.1,444.9 C692.9,445.6 688.7,443.7 687.8,441.6 C686.5,438.6 686.6,432.8 688.5,430.1Z" fill="#8adde5"/>
<path d="M645.5,193.4 C640.8,200.4 644.1,214.9 641.6,223.0 C640.3,227.4 634.3,232.1 632.4,236.2 C630.1,241.3 629.3,250.2 626.8,255.2 C623.9,261.0 617.2,268.6 613.7,274.0 C610.3,279.2 605.3,287.2 602.5,292.7 C599.9,297.8 596.4,305.9 594.9,311.4 C592.7,319.4 590.5,331.8 589.3,340.0 C588.3,346.9 588.1,357.5 587.4,364.4 C586.6,371.9 584.3,383.2 584.1,390.7 C583.9,398.2 583.7,409.8 585.7,417.0 C587.5,423.2 593.5,431.4 597.2,436.7 C601.4,442.6 609.6,450.4 613.7,456.4 C618.0,462.7 622.5,473.7 626.8,480.1 C628.9,483.1 634.2,486.1 635.9,489.3 C639.6,496.3 643.1,508.1 645.7,515.6 C648.2,523.0 652.1,534.3 654.0,541.9 C655.8,549.3 657.2,560.8 658.9,568.2 C659.6,571.1 661.3,580.9 662.2,578.1 C665.0,569.1 666.1,554.6 666.1,545.2 C666.1,536.7 664.0,523.9 662.2,515.6 C660.5,508.0 656.8,496.6 654.0,489.3 C652.1,484.4 645.9,478.1 645.7,472.9 C645.6,469.4 653.6,466.5 653.2,463.0 C652.3,455.8 644.5,446.7 641.7,440.0 C638.6,432.7 632.8,421.6 632.5,413.7 C632.3,406.8 638.7,397.4 640.0,390.7 C641.4,383.4 641.9,371.9 641.7,364.4 C641.5,356.9 639.1,345.6 638.4,338.1 C637.7,329.7 635.7,316.8 636.7,308.5 C637.2,304.3 641.3,299.0 643.3,295.3 C645.1,292.0 649.5,287.5 649.9,283.8 C650.5,278.6 646.4,270.9 646.6,265.7 C646.9,259.0 649.9,249.2 651.5,242.7 C653.1,236.1 656.8,226.3 658.1,219.7 C659.6,212.3 664.6,200.2 661.4,193.4 C659.5,189.3 648.0,189.7 645.5,193.4Z" fill="#98efb8"/>
<path d="M648.0,193.4 C644.2,201.0 646.6,214.9 644.1,223.0 C642.8,227.4 636.8,232.1 634.9,236.2 C632.6,241.3 631.8,250.2 629.3,255.2 C626.4,261.0 619.7,268.6 616.2,274.0 C612.8,279.2 607.8,287.2 605.0,292.7 C602.4,297.8 598.9,305.9 597.4,311.4 C595.2,319.4 593.0,331.8 591.8,340.0 C590.8,346.9 590.6,357.5 589.9,364.4 C589.1,371.9 586.8,383.2 586.6,390.7 C586.4,398.2 586.2,409.8 588.2,417.0 C590.0,423.2 596.0,431.4 599.7,436.7 C603.9,442.6 612.1,450.4 616.2,456.4 C620.5,462.7 625.4,473.5 629.3,480.1 C630.9,482.9 634.6,486.4 635.9,489.3 C639.2,496.5 643.1,508.1 645.7,515.6 C648.2,523.0 652.1,534.3 654.0,541.9 C655.8,549.3 657.2,560.8 658.9,568.2 C659.6,571.1 661.3,580.9 662.2,578.1 C665.0,569.1 666.1,554.6 666.1,545.2 C666.1,536.7 664.0,523.9 662.2,515.6 C660.5,508.0 656.8,496.6 654.0,489.3 C652.1,484.4 646.3,478.1 645.7,472.9 C645.3,469.8 651.3,466.1 650.7,463.0 C649.3,455.9 642.0,446.7 639.2,440.0 C636.1,432.7 630.3,421.6 630.0,413.7 C629.8,406.8 636.2,397.4 637.5,390.7 C638.9,383.4 639.4,371.9 639.2,364.4 C639.0,356.9 636.6,345.6 635.9,338.1 C635.2,329.7 633.2,316.8 634.2,308.5 C634.7,304.3 638.8,299.0 640.8,295.3 C642.6,292.0 647.0,287.5 647.4,283.8 C648.0,278.6 643.9,270.9 644.1,265.7 C644.4,259.0 647.4,249.2 649.0,242.7 C650.6,236.1 654.3,226.3 655.6,219.7 C657.1,212.3 661.0,200.6 658.9,193.4 C658.0,190.4 649.4,190.6 648.0,193.4Z" fill="#a2e8ae"/>
<path d="M641.5,238.2 C645.3,237.0 649.0,245.6 649.9,249.5 C650.6,252.5 647.3,256.9 646.7,259.9 C645.6,265.1 645.7,273.6 643.7,278.6 C642.3,282.1 637.6,285.9 634.9,288.6 C633.1,290.5 630.3,293.7 627.9,294.6 C625.8,295.4 620.5,296.4 619.9,294.2 C618.7,289.6 622.2,282.3 623.6,277.7 C624.8,273.6 627.3,267.5 629.2,263.6 C630.5,260.8 633.5,257.0 634.9,254.2 C637.0,249.8 636.8,239.7 641.5,238.2Z" fill="#b2dea6"/>
<path d="M642.4,242.9 C644.7,241.8 647.2,247.9 647.5,250.5 C647.8,253.0 645.1,256.4 644.5,258.9 C643.4,263.9 643.4,272.0 641.5,276.8 C640.2,279.9 635.9,283.2 633.6,285.6 C631.9,287.3 629.5,290.2 627.4,291.2 C626.1,291.8 622.4,292.3 622.3,290.9 C621.9,287.0 624.9,281.4 626.1,277.7 C627.3,274.0 629.4,268.4 631.1,264.9 C632.5,262.1 635.4,258.3 636.8,255.5 C638.6,252.0 638.9,244.6 642.4,242.9Z" fill="#c4dca3"/>
<path d="M612.3,286.7 C615.3,283.0 626.0,281.6 629.3,285.2 C633.8,290.2 632.0,302.1 632.5,308.9 C633.6,321.1 635.7,339.9 634.9,352.1 C634.4,359.6 632.2,371.5 627.9,377.6 C625.1,381.6 616.9,383.3 612.2,384.5 C609.0,385.2 601.9,387.1 600.6,384.1 C597.5,376.8 599.3,364.1 599.8,356.2 C600.5,344.6 602.5,326.9 604.6,315.4 C606.1,307.2 606.9,293.3 612.3,286.7Z" fill="#b2dea6"/>
<path d="M612.4,288.7 C615.3,285.0 625.7,283.6 628.8,287.1 C633.2,292.2 631.1,304.0 631.6,310.7 C632.4,322.1 634.0,339.5 633.3,350.9 C632.8,358.1 631.3,369.7 627.3,375.7 C624.8,379.6 616.9,381.3 612.4,382.5 C609.3,383.2 602.5,385.1 601.3,382.2 C598.4,375.0 600.7,362.5 601.2,354.8 C601.9,344.1 603.7,327.8 605.5,317.2 C606.9,309.0 607.4,295.3 612.4,288.7Z" fill="#c4dca3"/>
<path d="M612.7,291.2 C615.3,287.6 625.4,286.1 628.3,289.6 C632.5,294.7 630.1,306.3 630.5,312.9 C631.0,323.2 631.9,339.1 631.3,349.4 C630.9,356.3 630.3,367.4 626.7,373.3 C624.4,377.1 616.9,378.9 612.6,380.0 C609.8,380.8 603.2,382.6 602.1,379.9 C599.6,372.7 602.4,360.6 602.9,353.0 C603.7,343.4 605.2,328.9 606.7,319.4 C608.0,311.3 607.9,297.8 612.7,291.2Z" fill="#dcddae"/>
<path d="M612.9,293.7 C615.2,290.2 625.1,288.6 627.7,292.0 C631.7,297.2 629.1,308.5 629.3,315.1 C629.6,324.4 629.8,338.6 629.3,347.9 C628.9,354.5 629.2,365.1 626.0,370.9 C624.0,374.5 616.9,376.4 612.9,377.5 C610.2,378.3 603.8,380.2 603.0,377.5 C600.8,370.4 604.0,358.6 604.7,351.2 C605.4,342.8 606.7,330.0 607.9,321.6 C609.0,313.6 608.4,300.4 612.9,293.7Z" fill="#f0eecb"/>
<path d="M591.5,394.0 C596.3,390.2 608.3,388.3 612.9,392.3 C617.5,396.3 617.2,408.3 614.5,413.7 C612.5,417.6 604.1,419.2 599.7,418.6 C596.1,418.1 591.0,413.8 589.9,410.4 C588.4,406.0 587.8,396.9 591.5,394.0Z" fill="#c4dca3"/>
<path d="M594.8,397.2 C598.2,394.8 606.4,393.9 609.6,396.6 C612.6,399.1 612.1,407.0 610.2,410.4 C608.7,413.2 602.8,414.8 599.7,414.3 C597.2,413.9 594.5,410.2 593.8,407.8 C593.0,404.9 592.3,398.9 594.8,397.2Z" fill="#dcddae"/>
<path d="M635.9,370.9 C636.5,368.7 643.4,368.7 644.1,370.9 C646.3,378.0 646.2,390.0 644.1,397.2 C643.5,399.3 637.1,399.3 636.5,397.2 C634.3,390.1 633.8,378.1 635.9,370.9Z" fill="#b2dea6"/>
<path d="M614.5,474.5 C619.4,471.6 629.7,475.3 634.2,478.8 C641.3,484.2 649.0,496.1 653.0,504.1 C657.1,512.4 660.9,526.2 662.2,535.3 C663.1,541.8 663.9,552.7 660.5,558.3 C658.6,561.5 650.4,562.3 647.4,560.0 C642.9,556.6 641.5,547.0 639.2,541.9 C635.9,534.5 631.0,523.1 627.7,515.6 C624.4,508.1 618.7,497.0 616.2,489.3 C614.9,485.3 610.9,476.6 614.5,474.5Z" fill="#b2dea6"/>
<path d="M619.4,479.4 C620.4,474.7 632.2,479.6 635.9,482.7 C641.8,487.7 647.6,498.6 650.7,505.7 C654.2,513.7 657.7,526.7 658.9,535.3 C659.6,540.9 659.7,550.0 657.3,555.1 C656.3,557.3 650.7,558.4 649.0,556.7 C645.0,552.7 643.1,543.7 640.8,538.6 C637.5,531.2 632.1,519.9 629.3,512.3 C626.0,503.1 617.3,488.9 619.4,479.4Z" fill="#c4dca3"/>
<path d="M629.3,492.6 C630.6,489.5 638.6,493.3 640.8,495.9 C645.6,501.4 650.0,512.0 652.3,518.9 C654.4,525.2 656.6,535.3 656.3,541.9 C656.2,544.7 653.2,551.4 650.7,550.1 C646.7,547.9 645.9,539.5 644.1,535.3 C641.3,528.8 636.5,519.0 634.2,512.3 C632.3,506.9 627.2,497.9 629.3,492.6Z" fill="#dcddae"/>
<path d="M652.3,578.1 C655.2,575.5 663.3,578.2 665.5,581.4 C669.3,586.9 670.7,597.7 670.4,604.4 C670.2,610.3 668.4,620.4 663.8,624.1 C661.2,626.2 655.4,620.6 654.0,617.5 C651.3,611.5 651.0,601.1 650.7,594.5 C650.5,589.8 648.8,581.2 652.3,578.1Z" fill="#a2e8ae"/>
<path d="M656.3,587.9 C657.0,586.1 661.9,587.9 662.8,589.6 C664.6,592.9 665.5,599.2 664.2,602.7 C663.5,604.5 658.5,605.4 657.6,603.7 C655.5,599.7 654.7,592.1 656.3,587.9Z" fill="#c4dca3"/>
<path d="M630.7,609.0 C630.2,617.8 637.4,630.3 640.5,638.6 C643.0,645.2 646.3,655.8 650.4,661.6 C654.4,667.2 663.1,673.7 668.5,678.0 C674.8,683.0 685.2,689.5 691.5,694.5 C698.2,699.8 707.8,708.9 714.5,714.2 C720.8,719.1 731.4,725.4 737.5,730.6 C744.5,736.6 754.2,746.8 760.5,753.6 C766.3,759.9 775.0,769.8 780.2,776.7 C784.8,782.9 791.9,792.6 795.0,799.7 C798.5,807.6 795.5,825.2 803.2,829.2 L910.0,860.0 L910.0,700.0 L757.2,664.9 C747.2,661.5 738.1,646.3 730.9,638.6 C724.1,631.4 713.4,620.5 707.9,612.3 C704.0,606.4 704.8,591.3 698.0,589.3 C692.3,587.7 685.7,599.8 684.9,605.7 C683.7,614.2 691.5,626.7 691.5,635.3 C691.5,641.2 690.2,652.4 684.9,655.0 C679.6,657.6 669.6,652.4 665.2,648.5 C659.6,643.5 655.6,632.1 652.0,625.5 C649.0,620.0 647.1,609.5 642.2,605.7 C639.5,603.6 630.9,605.6 630.7,609.0Z" fill="#90efc6"/>
<path d="M646.1,622.2 C647.1,618.7 655.2,617.5 658.6,618.9 C663.2,620.8 668.1,627.5 670.1,632.0 C672.4,637.2 675.0,646.3 673.4,651.8 C672.3,655.6 665.9,660.6 661.9,660.0 C657.3,659.3 652.2,652.8 650.4,648.5 C647.5,641.5 644.1,629.5 646.1,622.2Z" fill="#8adde5"/>
<path d="M650.4,627.1 C651.0,624.8 656.4,623.7 658.6,624.8 C662.0,626.5 665.4,631.8 666.8,635.3 C668.3,639.2 669.7,646.0 668.5,650.1 C667.8,652.5 663.6,655.8 661.2,655.0 C657.9,653.9 655.0,648.5 653.7,645.2 C651.8,640.3 649.2,632.2 650.4,627.1Z" fill="#88ceea"/>
<path d="M658.6,671.5 C660.1,668.1 668.3,668.5 671.8,669.8 C676.4,671.5 683.4,676.6 684.9,681.3 C685.8,684.2 681.3,689.1 678.3,689.6 C674.4,690.3 668.1,687.3 665.2,684.6 C662.1,681.8 656.9,675.3 658.6,671.5Z" fill="#8adde5"/>
<path d="M701.3,622.3 C702.9,629.2 709.9,638.2 712.5,644.8 C714.7,650.2 716.5,658.9 718.2,664.5 C720.1,670.9 725.0,680.3 725.2,687.0 C725.4,692.0 718.7,698.9 719.6,703.9 C720.9,711.1 727.2,721.2 732.3,726.5 C736.7,731.1 746.9,733.8 752.0,737.7 C757.4,741.8 765.5,748.7 768.9,754.6 C772.2,760.3 771.9,771.1 774.5,777.2 C776.8,782.5 781.9,789.8 785.8,794.1 C789.2,797.9 796.8,801.3 799.9,805.4 C801.9,808.0 799.4,816.2 802.7,816.6 L887.2,815.2 C889.2,815.1 883.3,811.8 881.5,811.0 C876.9,809.0 869.3,807.3 864.6,805.4 C861.3,804.1 855.9,802.2 853.4,799.7 C850.9,797.2 849.1,791.8 847.7,788.5 C846.3,785.4 844.7,780.4 843.5,777.2 C842.0,773.2 838.9,767.3 837.9,763.1 C836.9,759.2 838.5,752.5 836.5,749.0 C834.5,745.5 828.5,742.8 825.2,740.6 C821.3,738.0 815.0,734.6 811.1,732.1 C807.5,729.8 801.3,727.0 798.5,723.7 C796.3,721.1 795.9,715.4 794.2,712.4 C791.4,707.4 786.2,700.3 783.0,695.5 C779.8,690.7 775.5,682.9 771.7,678.6 C769.0,675.6 763.7,672.3 760.4,670.1 C756.5,667.5 749.9,664.6 746.3,661.7 C741.9,658.2 736.3,651.6 732.3,647.6 C728.3,643.6 721.8,637.9 718.2,633.5 C714.5,629.0 709.4,621.8 706.9,616.6 C704.9,612.5 705.9,597.9 702.7,601.1 C698.5,605.4 700.0,616.4 701.3,622.3Z" fill="#98efb8"/>
<path d="M704.1,624.5 C706.5,631.4 714.8,639.7 718.2,646.2 C720.8,651.1 722.6,659.6 725.2,664.5 C729.0,671.6 737.2,681.2 740.7,688.5 C744.1,695.7 745.5,708.2 749.2,715.2 C752.0,720.4 759.4,726.2 763.2,730.7 C766.5,734.6 770.5,741.6 774.5,744.8 C780.2,749.3 792.2,752.0 797.0,757.5 C800.8,761.9 800.8,771.7 802.7,777.2 C804.4,782.1 807.4,789.5 809.7,794.1 C811.4,797.5 815.3,801.9 816.8,805.4 C818.1,808.4 816.4,816.1 819.6,816.6 C838.6,819.2 868.1,816.9 887.2,815.2 C889.2,815.0 883.3,811.8 881.5,811.0 C876.9,809.0 869.3,807.3 864.6,805.4 C861.3,804.1 855.9,802.2 853.4,799.7 C850.9,797.2 849.1,791.8 847.7,788.5 C846.3,785.4 844.7,780.4 843.5,777.2 C842.0,773.2 838.9,767.3 837.9,763.1 C836.9,759.2 838.5,752.5 836.5,749.0 C834.5,745.5 828.5,742.8 825.2,740.6 C821.3,738.0 815.0,734.6 811.1,732.1 C807.5,729.8 801.3,727.0 798.5,723.7 C796.3,721.1 795.9,715.4 794.2,712.4 C791.4,707.4 786.2,700.3 783.0,695.5 C779.8,690.7 775.5,682.9 771.7,678.6 C769.0,675.6 763.7,672.3 760.4,670.1 C756.5,667.5 749.9,664.6 746.3,661.7 C741.9,658.2 736.3,651.6 732.3,647.6 C728.3,643.6 721.8,637.9 718.2,633.5 C714.5,629.0 709.4,621.8 706.9,616.6 C704.9,612.5 704.2,596.8 702.7,601.1 C700.5,607.4 701.9,618.2 704.1,624.5Z" fill="#a2e8ae"/>
<path d="M706.3,626.5 C709.5,633.6 719.4,641.2 723.8,647.6 C726.8,652.0 729.1,660.2 732.3,664.5 C738.0,672.3 748.6,682.5 754.8,689.9 C760.6,696.9 768.9,708.1 774.5,715.2 C777.7,719.2 782.2,725.7 785.8,729.3 C788.6,732.1 794.4,734.7 797.0,737.7 C799.3,740.4 801.9,745.5 802.7,749.0 C804.4,756.8 803.6,769.4 805.5,777.2 C806.8,782.4 811.8,789.2 813.9,794.1 C816.6,800.4 815.9,814.7 822.4,816.6 C840.0,821.7 868.9,816.9 887.2,815.2 C889.2,815.0 883.3,811.8 881.5,811.0 C876.9,809.0 869.3,807.3 864.6,805.4 C861.3,804.1 855.9,802.2 853.4,799.7 C850.9,797.2 849.1,791.8 847.7,788.5 C846.3,785.4 844.7,780.4 843.5,777.2 C842.0,773.2 838.9,767.3 837.9,763.1 C836.9,759.2 838.5,752.5 836.5,749.0 C834.5,745.5 828.5,742.8 825.2,740.6 C821.3,738.0 815.0,734.6 811.1,732.1 C807.5,729.8 801.3,727.0 798.5,723.7 C796.3,721.1 795.9,715.4 794.2,712.4 C791.4,707.4 786.2,700.3 783.0,695.5 C779.8,690.7 775.5,682.9 771.7,678.6 C769.0,675.6 763.7,672.3 760.4,670.1 C756.5,667.5 749.9,664.6 746.3,661.7 C741.9,658.2 736.3,651.6 732.3,647.6 C728.3,643.6 721.8,637.9 718.2,633.5 C714.5,629.0 709.4,621.8 706.9,616.6 C704.9,612.5 703.0,596.6 702.7,601.1 C702.3,608.4 703.3,619.9 706.3,626.5Z" fill="#b2dea6"/>
<path d="M708.0,627.3 C711.9,634.4 722.9,641.3 728.0,647.6 C731.5,651.9 734.4,660.2 737.9,664.5 C744.1,672.2 755.5,682.3 761.8,689.9 C767.5,696.7 774.7,708.2 780.1,715.2 C783.1,719.0 787.8,724.7 791.4,727.9 C794.2,730.4 799.9,732.3 802.7,734.9 C805.6,737.6 810.0,742.4 811.1,746.2 C813.3,753.9 811.9,766.6 813.9,774.4 C815.2,779.6 820.4,786.3 822.4,791.3 C825.2,798.3 823.7,814.0 830.8,816.6 C845.8,822.1 871.3,817.0 887.2,815.2 C889.2,815.0 883.3,811.8 881.5,811.0 C876.9,809.0 869.3,807.3 864.6,805.4 C861.3,804.1 855.9,802.2 853.4,799.7 C850.9,797.2 849.1,791.8 847.7,788.5 C846.3,785.4 844.7,780.4 843.5,777.2 C842.0,773.2 838.9,767.3 837.9,763.1 C836.9,759.2 838.5,752.5 836.5,749.0 C834.5,745.5 828.5,742.8 825.2,740.6 C821.3,738.0 815.0,734.6 811.1,732.1 C807.5,729.8 801.3,727.0 798.5,723.7 C796.3,721.1 795.9,715.4 794.2,712.4 C791.4,707.4 786.2,700.3 783.0,695.5 C779.8,690.7 775.5,682.9 771.7,678.6 C769.0,675.6 763.7,672.3 760.4,670.1 C756.5,667.5 749.9,664.6 746.3,661.7 C741.9,658.2 736.3,651.6 732.3,647.6 C728.3,643.6 721.8,637.9 718.2,633.5 C714.5,629.0 709.4,621.8 706.9,616.6 C704.9,612.5 702.2,596.6 702.7,601.1 C703.5,608.6 704.4,620.6 708.0,627.3Z" fill="#c4dca3"/>
<path d="M709.7,627.3 C714.3,634.6 726.5,641.3 732.3,647.6 C736.1,651.7 739.8,659.7 743.5,663.9 C750.2,671.7 762.3,682.0 768.9,689.9 C774.4,696.6 780.6,708.3 785.8,715.2 C788.2,718.3 792.4,722.7 795.6,725.1 C798.9,727.6 805.1,729.5 808.3,732.1 C812.0,735.2 817.7,740.4 819.6,744.8 C822.6,751.9 823.0,764.1 825.2,771.5 C827.0,777.3 831.6,785.6 833.7,791.3 C836.4,798.4 835.2,813.5 842.1,816.6 C853.8,821.8 874.5,817.0 887.2,815.2 C889.2,814.9 883.3,811.8 881.5,811.0 C876.9,809.0 869.3,807.3 864.6,805.4 C861.3,804.1 855.9,802.2 853.4,799.7 C850.9,797.2 849.1,791.8 847.7,788.5 C846.3,785.4 844.7,780.4 843.5,777.2 C842.0,773.2 838.9,767.3 837.9,763.1 C836.9,759.2 838.5,752.5 836.5,749.0 C834.5,745.5 828.5,742.8 825.2,740.6 C821.3,738.0 815.0,734.6 811.1,732.1 C807.5,729.8 801.3,727.0 798.5,723.7 C796.3,721.1 795.9,715.4 794.2,712.4 C791.4,707.4 786.2,700.3 783.0,695.5 C779.8,690.7 775.5,682.9 771.7,678.6 C769.0,675.6 763.7,672.3 760.4,670.1 C756.5,667.5 749.9,664.6 746.3,661.7 C741.9,658.2 736.3,651.6 732.3,647.6 C728.3,643.6 721.8,637.9 718.2,633.5 C714.5,629.0 709.4,621.8 706.9,616.6 C704.9,612.5 701.5,596.7 702.7,601.1 C704.6,608.5 705.6,620.8 709.7,627.3Z" fill="#dcddae"/>
<path d="M788.6,725.9 C791.2,729.0 798.9,727.2 802.7,728.7 C807.0,730.4 813.2,734.3 816.8,737.2 C820.4,740.1 825.2,745.3 828.0,749.0 C830.8,752.7 834.7,758.8 836.5,763.1 C838.7,768.5 839.8,777.5 842.1,782.8 C844.6,788.7 849.8,797.1 853.4,802.5 C856.2,806.7 859.9,814.6 864.6,816.6 C870.5,819.1 881.1,818.6 887.2,816.6 C889.3,815.9 883.5,812.0 881.5,811.0 C877.0,808.8 869.3,807.3 864.6,805.4 C861.3,804.1 855.9,802.2 853.4,799.7 C850.9,797.2 849.1,791.8 847.7,788.5 C846.3,785.4 844.7,780.4 843.5,777.2 C842.0,773.2 838.9,767.3 837.9,763.1 C836.9,759.2 838.5,752.5 836.5,749.0 C834.5,745.5 828.5,742.8 825.2,740.6 C821.3,738.0 815.0,734.6 811.1,732.1 C807.5,729.8 802.6,724.8 798.5,723.7 C795.7,722.9 786.8,723.7 788.6,725.9Z" fill="#f0eecb"/>
<path d="M794.8,738.3 C797.8,734.5 807.7,738.3 811.7,741.1 C816.9,744.7 822.1,753.4 824.6,759.2 C827.4,765.6 830.5,776.4 830.3,783.4 C830.2,787.5 827.4,794.9 823.5,796.3 C819.6,797.7 812.8,793.7 810.0,790.7 C806.8,787.3 805.4,779.9 803.8,775.5 C802.0,770.6 799.4,763.1 798.2,758.0 C796.9,752.5 791.3,742.7 794.8,738.3Z" fill="#b2dea6"/>
<path d="M797.0,740.6 C799.5,737.4 807.9,740.9 811.1,743.4 C815.7,746.9 820.1,755.0 822.4,760.3 C825.0,766.3 828.0,776.2 828.0,782.8 C828.0,786.4 825.8,793.0 822.4,794.1 C819.0,795.2 813.4,791.2 811.1,788.5 C808.3,785.2 807.0,778.4 805.5,774.4 C803.8,769.7 801.1,762.4 799.9,757.5 C798.7,752.8 794.0,744.4 797.0,740.6Z" fill="#a2e8ae"/>
<path d="M801.3,774.4 C802.1,772.4 807.3,775.3 808.3,777.2 C810.0,780.4 811.0,786.5 809.7,789.9 C809.0,791.8 803.7,793.1 802.7,791.3 C800.4,787.1 799.5,778.9 801.3,774.4Z" fill="#f0eecb"/>
<path d="M584.7,33.9 C580.1,35.6 586.9,46.2 589.0,50.7 C592.6,58.5 600.0,69.4 604.6,76.6 C609.2,83.7 616.0,94.6 621.4,101.1 C629.0,110.3 644.5,121.3 650.4,131.6 C654.8,139.2 656.1,153.3 656.5,162.1 C656.9,170.8 654.5,184.0 653.4,192.6 C652.3,201.3 651.2,214.8 648.8,223.2 C646.2,232.2 633.1,244.8 636.0,253.7 C638.1,260.3 653.2,258.8 660.0,257.7 C671.9,255.8 698.1,255.6 700.0,243.7 L700.0,10.0 L584.7,33.9Z" fill="#b2dea6"/>
<path d="M593.9,33.9 C589.4,35.7 595.0,46.3 596.9,50.7 C600.3,58.5 607.5,69.5 612.2,76.6 C617.0,83.8 625.3,94.2 630.5,101.1 C637.0,109.7 648.8,121.8 653.4,131.6 C657.2,139.6 659.0,153.3 659.5,162.1 C660.0,170.8 658.1,184.0 657.1,192.6 C656.1,201.3 654.9,214.8 652.5,223.2 C650.0,232.2 637.9,244.6 640.0,253.7 C641.3,259.2 654.4,256.6 660.0,255.7 C671.7,253.8 698.1,255.4 700.0,243.7 L700.0,10.0 L593.9,33.9Z" fill="#c4dca3"/>
<path d="M700.0,10.0 L700.0,150.0 L629.3,249.3 C626.9,253.7 633.9,261.1 635.9,265.7 C637.6,269.5 639.0,276.7 642.5,278.9 C647.3,281.9 656.6,281.3 662.2,282.2 C668.7,283.3 678.7,285.0 685.2,286.1 C692.6,287.3 704.0,289.6 711.5,290.4 C716.1,290.9 723.4,289.4 727.9,290.4 C732.0,291.3 738.5,293.7 741.1,297.0 C744.5,301.3 746.5,309.8 747.7,315.1 C749.1,321.5 749.7,331.6 750.3,338.1 C751.0,345.5 752.9,356.9 752.6,364.4 C752.3,372.9 749.9,385.7 748.3,394.0 C746.5,403.4 742.5,417.5 740.4,426.8 C738.6,435.1 736.8,448.2 734.5,456.4 C732.3,464.1 727.1,475.1 724.6,482.7 C722.5,489.1 719.3,499.0 718.1,505.7 C716.5,514.9 716.2,529.3 714.8,538.6 C713.6,547.1 711.5,560.1 708.9,568.2 C707.3,573.2 702.5,579.9 700.0,584.6 C698.5,587.4 694.3,591.5 695.1,594.5 C696.0,598.3 701.0,604.2 704.9,604.4 L910.0,604.4 L910.0,10.0 L700.0,10.0Z" fill="#98efb8"/>
<path d="M700.0,10.0 L700.0,150.0 L633.9,249.3 C632.8,251.2 635.8,254.6 636.5,256.6 C637.3,258.7 638.1,262.0 639.2,264.0 C640.2,265.7 642.5,267.8 643.9,269.3 C645.3,270.7 647.3,273.2 649.0,274.2 C650.8,275.3 654.1,275.9 656.1,276.4 C658.3,276.9 661.6,277.4 663.8,277.8 C666.0,278.2 669.3,278.9 671.4,279.2 C673.6,279.6 676.9,280.3 679.1,280.6 C681.3,281.0 684.6,281.5 686.8,281.8 C689.0,282.2 692.3,282.8 694.5,283.1 C696.7,283.4 700.0,283.7 702.2,283.9 C704.4,284.0 707.7,283.9 709.9,284.0 C712.0,284.1 715.4,284.2 717.5,284.4 C719.7,284.6 723.1,285.0 725.3,285.2 C727.4,285.5 730.8,285.4 732.8,286.1 C734.7,286.8 737.2,288.9 738.8,290.1 C740.5,291.3 743.2,293.2 744.5,294.8 C745.9,296.5 747.2,299.5 748.0,301.4 C748.8,303.5 749.7,306.8 750.3,308.9 C751.0,311.0 752.0,314.2 752.4,316.3 C752.9,318.5 753.1,321.9 753.4,324.1 C753.7,326.3 754.1,329.6 754.4,331.8 C754.6,334.0 755.0,337.3 755.3,339.5 C755.6,341.7 756.0,345.1 756.3,347.3 C756.6,349.4 757.0,352.8 757.3,355.0 C757.6,357.2 758.1,360.5 758.3,362.7 C758.5,364.9 758.6,368.2 758.6,370.4 C758.7,372.5 758.7,375.8 758.8,378.0 C758.8,380.2 758.9,383.5 758.9,385.7 C758.8,387.8 758.7,391.2 758.5,393.4 C758.3,395.6 758.0,398.9 757.6,401.1 C757.2,403.2 756.3,406.5 755.8,408.6 C755.2,410.7 754.2,413.9 753.6,416.1 C753.0,418.2 752.0,421.4 751.4,423.5 C750.8,425.6 749.9,428.9 749.3,431.0 C748.7,433.1 747.7,436.3 747.1,438.4 C746.5,440.6 745.5,443.8 745.0,445.9 C744.4,448.0 743.7,451.3 743.2,453.4 C742.7,455.6 741.9,458.9 741.3,461.0 C740.7,463.1 740.1,466.4 739.2,468.4 C738.3,470.4 736.3,472.9 735.1,474.7 C733.9,476.5 732.0,479.1 730.9,480.9 C729.8,482.7 728.0,485.4 727.3,487.3 C726.5,489.4 725.9,492.7 725.4,494.9 C724.8,497.0 723.9,500.3 723.4,502.4 C723.0,504.6 722.5,507.9 722.2,510.1 C721.8,512.3 721.3,515.6 720.9,517.8 C720.6,520.0 720.0,523.3 719.7,525.5 C719.3,527.6 718.8,531.0 718.4,533.1 C718.1,535.3 717.4,538.6 717.1,540.8 C716.7,543.0 716.2,546.3 715.9,548.5 C715.6,550.7 715.0,554.0 714.7,556.2 C714.4,558.3 714.0,561.7 713.5,563.9 C713.0,566.0 712.2,569.2 711.5,571.2 C710.7,573.3 709.2,576.3 708.3,578.3 C707.3,580.3 705.8,583.3 704.8,585.3 C703.8,587.2 701.8,590.1 701.3,592.2 C700.9,593.9 701.1,596.7 701.8,598.3 C702.6,600.3 704.1,604.3 706.2,604.4 L910.0,604.4 L910.0,10.0 L700.0,10.0Z" fill="#a2e8ae"/>
<path d="M700.0,10.0 L700.0,150.0 L637.9,249.3 C636.8,251.2 639.7,254.7 640.3,256.8 C641.0,258.9 641.4,262.5 642.8,264.3 C644.0,265.9 646.9,267.2 648.7,268.1 C650.5,269.2 653.3,270.6 655.3,271.3 C657.4,272.1 660.6,272.8 662.8,273.3 C664.9,273.8 668.3,274.4 670.5,274.9 C672.6,275.3 676.0,276.0 678.2,276.4 C680.4,276.9 683.7,277.5 685.9,277.9 C688.1,278.3 691.5,278.7 693.7,279.0 C695.9,279.4 699.2,280.0 701.5,280.2 C703.6,280.4 707.0,280.7 709.2,280.7 C711.4,280.6 714.7,280.0 716.9,279.8 C719.1,279.6 722.5,279.4 724.7,279.5 C726.9,279.6 730.2,280.3 732.4,280.7 C734.5,281.1 738.0,281.3 739.8,282.3 C741.7,283.4 743.4,286.3 744.7,288.0 C746.1,289.6 748.4,292.1 749.5,293.9 C750.6,295.8 751.7,298.9 752.4,301.0 C753.1,303.1 753.9,306.4 754.5,308.6 C755.1,310.7 756.0,314.0 756.5,316.2 C756.9,318.3 757.2,321.7 757.5,324.0 C757.8,326.2 758.2,329.5 758.5,331.7 C758.8,334.0 759.3,337.3 759.6,339.5 C759.9,341.7 760.5,345.1 760.9,347.3 C761.2,349.5 761.8,352.8 762.2,355.0 C762.5,357.2 763.1,360.6 763.4,362.8 C763.8,365.0 764.3,368.3 764.7,370.5 C765.0,372.6 765.5,376.0 765.9,378.1 C766.2,380.3 766.9,383.6 767.1,385.8 C767.3,388.0 767.3,391.4 767.3,393.6 C767.3,395.8 767.4,399.2 767.1,401.4 C766.8,403.6 765.9,406.8 765.3,409.0 C764.6,411.1 763.5,414.3 762.8,416.4 C762.1,418.5 761.0,421.8 760.3,423.9 C759.6,426.0 758.4,429.2 757.7,431.3 C756.9,433.3 755.8,436.5 755.0,438.6 C754.2,440.7 753.0,443.9 752.3,446.0 C751.6,448.1 750.7,451.4 750.2,453.5 C749.7,455.7 749.1,459.0 748.7,461.2 C748.2,463.4 748.1,466.9 747.0,468.9 C746.0,470.8 743.3,472.8 741.8,474.3 C740.2,475.8 737.8,478.0 736.3,479.6 C734.8,481.1 732.3,483.3 731.4,485.2 C730.4,487.2 730.1,490.7 729.6,492.8 C729.1,495.0 728.3,498.3 727.8,500.5 C727.4,502.7 726.8,506.0 726.3,508.2 C725.9,510.4 725.1,513.7 724.7,515.9 C724.2,518.1 723.5,521.4 723.0,523.6 C722.5,525.7 721.8,529.0 721.3,531.2 C720.9,533.4 720.2,536.7 719.8,538.9 C719.5,541.1 719.2,544.5 718.9,546.7 C718.7,548.9 718.3,552.3 718.0,554.5 C717.7,556.7 717.4,560.1 717.1,562.3 C716.8,564.5 716.4,567.9 715.8,570.0 C715.2,572.1 713.9,575.2 713.1,577.3 C712.2,579.3 710.8,582.4 709.8,584.4 C708.8,586.4 707.0,589.3 706.1,591.4 C705.3,593.1 703.6,595.8 703.8,597.7 C704.0,599.9 705.2,604.3 707.4,604.4 L910.0,604.4 L910.0,10.0 L700.0,10.0Z" fill="#b2dea6"/>
<path d="M700.0,10.0 L700.0,150.0 L640.8,249.3 C638.7,253.7 642.0,262.5 645.7,265.7 C650.1,269.5 659.9,269.4 665.5,270.7 C672.0,272.2 681.9,274.4 688.5,275.6 C695.0,276.8 704.9,278.9 711.5,278.9 C716.2,278.9 723.2,275.6 727.9,275.6 C732.7,275.6 740.6,276.0 744.4,278.9 C748.7,282.1 752.2,290.3 754.2,295.3 C756.4,300.7 758.1,309.4 759.2,315.1 C760.4,321.6 761.3,331.6 762.4,338.1 C763.6,345.6 765.8,357.0 767.4,364.4 C768.9,371.0 772.2,380.8 773.3,387.4 C774.1,392.0 774.9,399.2 774.0,403.8 C772.7,410.6 768.2,420.4 765.7,426.8 C763.1,433.4 758.0,443.0 755.9,449.8 C754.2,455.2 755.7,464.8 752.6,469.6 C749.1,474.9 737.9,477.4 734.5,482.7 C730.9,488.3 731.1,499.2 729.6,505.7 C727.6,514.1 723.4,526.8 722.0,535.3 C720.3,545.5 720.7,561.4 718.7,571.5 C717.7,576.5 713.9,583.4 711.5,587.9 C709.9,590.9 705.6,594.5 704.9,597.8 C704.5,599.9 706.1,604.3 708.2,604.4 L910.0,604.4 L910.0,10.0 L700.0,10.0Z" fill="#c4dca3"/>
<path d="M721.4,550.1 C724.5,541.7 729.3,527.9 736.2,522.2 C741.3,518.0 752.8,517.2 759.2,518.9 C766.3,520.7 776.4,527.6 780.5,533.7 C785.0,540.5 787.8,553.4 787.8,561.6 C787.8,569.3 785.2,581.8 780.5,587.9 C776.4,593.2 765.9,597.6 759.2,598.5 C751.7,599.5 739.2,598.6 732.9,594.5 C726.4,590.2 720.0,579.0 718.1,571.5 C716.6,565.6 719.3,555.9 721.4,550.1Z" fill="#a2e8ae"/>
<path d="M724.6,548.5 C727.1,541.4 731.9,530.2 737.8,525.5 C742.2,522.0 752.0,520.8 757.5,522.2 C764.0,523.8 773.5,529.7 777.2,535.3 C781.5,541.7 783.8,553.9 783.8,561.6 C783.8,568.4 781.4,579.3 777.2,584.6 C773.3,589.5 763.7,593.5 757.5,594.5 C751.0,595.5 740.1,594.7 734.5,591.2 C728.8,587.6 722.9,578.0 721.4,571.5 C719.9,565.1 722.4,554.7 724.6,548.5Z" fill="#98efb8"/>
<path d="M734.5,555.1 C736.4,549.1 739.4,539.1 744.4,535.3 C748.1,532.5 756.6,533.4 760.8,535.3 C765.6,537.5 772.0,543.6 774.0,548.5 C776.5,554.5 777.3,565.2 775.6,571.5 C774.3,576.3 768.7,582.7 764.1,584.6 C759.0,586.8 749.5,586.8 744.4,584.6 C739.8,582.7 734.5,576.2 732.9,571.5 C731.4,567.1 733.1,559.5 734.5,555.1Z" fill="#90efc6"/>
<path d="M702.3,600.4 C702.3,595.3 713.0,591.8 718.1,591.9 C724.3,592.0 731.9,599.5 737.8,601.1 C745.0,603.1 756.6,604.1 764.1,604.4 C771.6,604.7 783.0,604.1 790.4,603.1 C798.9,601.9 812.5,592.4 820.0,596.5 C825.6,599.6 824.9,615.0 820.0,619.2 C813.6,624.6 798.8,621.2 790.4,621.5 C783.0,621.8 771.5,622.3 764.1,621.5 C756.5,620.6 745.1,617.8 737.8,615.5 C732.0,613.7 723.7,609.4 718.1,607.0 C713.6,605.1 702.3,605.3 702.3,600.4Z" fill="#b2dea6"/>
<path d="M700.0,10.0 L700.0,150.0 L645.7,249.3 C644.3,252.7 652.3,256.0 655.6,257.5 C660.9,259.8 669.7,261.3 675.3,262.5 C680.9,263.7 689.5,264.7 695.1,265.7 C699.8,266.5 707.0,270.4 711.5,269.0 C715.6,267.7 718.2,260.4 721.4,257.5 C724.3,254.8 728.9,249.7 732.9,249.3 C738.2,248.7 746.8,250.8 750.9,254.2 C755.4,257.9 758.6,266.9 760.8,272.3 C763.3,278.6 765.4,288.8 767.4,295.3 C769.1,301.0 772.7,309.3 774.0,315.1 C775.5,321.5 776.3,331.6 777.2,338.1 C778.2,345.5 778.4,357.2 780.5,364.4 C782.2,370.4 788.4,378.2 790.4,384.1 C792.2,389.5 792.2,398.3 793.7,403.8 C795.5,410.5 800.0,420.1 801.9,426.8 C803.7,433.2 805.6,443.2 806.8,449.8 C807.5,453.5 810.0,459.6 808.5,463.0 C805.5,469.6 791.7,475.4 792.0,482.7 C792.3,491.0 806.0,498.5 810.1,505.7 C815.0,514.5 819.6,529.3 823.3,538.6 C827.0,547.9 834.4,561.7 836.4,571.5 C837.3,576.1 835.0,583.6 833.1,587.9 C831.2,592.2 827.0,598.3 823.3,601.1 C819.3,604.1 811.6,606.3 806.8,607.7 C802.3,609.1 785.7,610.8 790.4,610.9 L910.0,610.9 L910.0,10.0 L700.0,10.0Z" fill="#dcddae"/>
<path d="M790.4,610.9 C791.1,605.1 804.6,606.4 810.1,604.4 C814.8,602.7 822.6,600.8 826.6,597.8 C830.3,595.0 835.1,589.1 836.4,584.6 C838.0,579.3 831.0,566.4 836.4,564.9 L908.7,564.9 L908.7,689.8 C901.2,704.3 871.1,673.0 856.1,666.8 C849.7,664.2 839.6,661.0 833.1,658.6 C828.4,656.8 820.2,655.5 816.7,652.0 C812.3,647.6 810.2,637.6 806.8,632.3 C802.7,625.9 789.5,618.5 790.4,610.9Z" fill="#dcddae"/>
<path d="M618.3,33.9 C614.0,36.0 617.7,46.0 618.3,50.7 C619.0,56.4 620.9,65.1 622.9,70.5 C626.1,79.4 631.9,92.9 636.6,101.1 C641.9,110.3 654.1,121.8 658.0,131.6 C661.2,139.7 661.1,153.4 661.1,162.1 C661.1,170.8 659.0,184.0 658.0,192.6 C657.0,201.3 655.6,214.6 654.3,223.2 C653.2,230.2 643.3,244.3 649.5,247.6 C662.1,254.3 697.0,261.6 700.0,247.6 L700.0,10.0 L618.3,33.9Z" fill="#dcddae"/>
<path d="M629.9,33.9 C625.8,36.3 629.6,45.9 629.9,50.7 C630.2,56.3 630.7,65.0 632.1,70.5 C634.4,79.4 638.6,92.9 642.7,101.1 C647.3,110.3 659.3,121.8 662.6,131.6 C665.4,139.8 663.8,153.5 663.5,162.1 C663.2,170.8 661.3,184.0 660.4,192.6 C659.4,201.3 658.4,214.6 656.8,223.2 C655.5,230.2 644.2,244.1 650.4,247.6 C662.6,254.5 697.1,261.4 700.0,247.6 L700.0,10.0 L629.9,33.9Z" fill="#f0eecb"/>
<path d="M700.0,10.0 L700.0,150.0 C696.3,166.5 668.0,179.1 658.9,193.4 C654.9,199.7 657.2,212.4 655.6,219.7 C654.4,225.5 650.6,233.7 649.0,239.4 C648.2,242.1 644.6,248.6 647.4,249.3 C651.9,250.4 657.7,243.7 662.2,242.7 C668.6,241.3 678.7,241.5 685.2,241.1 C695.5,240.5 711.1,239.1 721.4,239.4 C728.0,239.6 738.0,241.2 744.4,242.7 C750.1,244.0 759.3,245.9 764.1,249.3 C769.0,252.7 773.0,261.5 777.2,265.7 C780.5,269.0 786.7,272.8 790.4,275.6 C794.1,278.4 800.0,282.4 803.5,285.5 C807.5,289.0 813.2,294.6 816.7,298.6 C819.8,302.1 825.3,307.3 826.6,311.8 C827.4,314.6 825.7,320.0 823.3,321.6 C819.3,324.2 810.8,322.4 806.8,324.9 C802.9,327.4 798.7,333.8 797.0,338.1 C794.9,343.4 794.0,352.1 793.7,357.8 C793.5,362.5 793.2,370.0 795.3,374.2 C797.2,378.0 804.9,380.3 806.8,384.1 C809.3,389.2 808.7,398.3 810.1,403.8 C811.5,409.5 814.5,418.0 816.7,423.5 C818.3,427.4 821.8,432.8 823.3,436.7 C824.6,440.3 826.8,446.0 826.6,449.8 C826.3,453.8 822.8,459.2 821.6,463.0 C820.0,467.8 820.5,476.8 816.7,480.1 C812.8,483.5 801.8,478.6 798.6,482.7 C796.3,485.6 804.5,489.7 806.8,492.6 C809.7,496.3 814.4,501.6 816.7,505.7 C819.2,510.1 820.3,518.2 823.3,522.2 C826.1,525.9 832.5,529.4 836.4,532.0 C840.9,535.0 848.4,538.8 852.9,541.9 C857.8,545.3 864.0,552.3 869.3,555.1 C876.3,558.9 887.9,563.0 895.6,564.9 C899.6,565.9 909.9,569.0 910.0,564.9 L910.0,10.0 L700.0,10.0Z" fill="#f0eecb"/>
<path d="M686.5,576.2 C688.8,572.6 697.3,573.2 701.3,574.5 C706.7,576.2 713.3,582.4 717.8,586.0 C722.7,589.9 735.6,594.7 734.2,600.8 C733.0,606.2 720.1,601.1 714.5,600.8 C710.7,600.6 704.9,600.4 701.3,599.2 C697.7,598.0 691.8,595.8 689.8,592.6 C687.2,588.6 684.0,580.2 686.5,576.2Z" fill="#c4dca3"/>
<path d="M689.8,579.4 C692.1,577.1 698.3,578.2 701.3,579.4 C705.6,581.1 710.6,586.7 714.5,589.3 C719.0,592.3 730.9,593.8 730.9,599.2 C730.9,603.9 719.1,598.0 714.5,597.5 C710.8,597.1 704.8,597.2 701.3,595.9 C698.1,594.8 693.4,592.0 691.5,589.3 C689.9,587.0 687.8,581.4 689.8,579.4Z" fill="#dcddae"/>
<path d="M783.0,611.5 C784.1,610.4 787.1,609.8 788.6,610.4 C793.0,612.0 799.1,616.0 802.7,618.9 C807.1,622.4 812.6,629.2 816.8,633.0 C820.6,636.4 826.4,641.7 830.8,644.2 C835.2,646.7 843.0,648.4 847.7,650.4 C852.6,652.5 860.2,655.9 864.6,658.9 C868.2,661.4 872.1,667.3 875.9,669.6 C880.3,672.2 890.9,671.1 892.8,675.8 C896.6,685.4 899.9,704.8 892.8,712.4 C888.0,717.6 878.8,701.1 873.1,696.9 C868.5,693.5 861.0,688.8 856.2,685.6 C851.4,682.4 843.9,677.8 839.3,674.4 C835.2,671.4 829.2,666.2 825.2,663.1 C821.7,660.4 815.2,657.5 812.8,653.8 C811.5,651.8 814.8,647.6 813.9,645.4 C813.0,643.1 808.9,641.5 807.2,639.7 C803.8,635.9 799.2,629.5 795.9,625.6 C793.0,622.2 788.2,617.1 785.2,613.8 C784.6,613.1 782.4,612.1 783.0,611.5Z" fill="#f0eecb"/>
<path d="M840.0,340.0 C848.9,322.3 901.1,322.3 910.0,340.0 L910.0,480.0 C901.1,497.7 848.9,497.7 840.0,480.0 L840.0,340.0Z" fill="#f0eecb"/>
<path d="M52.8,512.6 C55.0,502.1 69.3,490.5 78.2,484.5 C83.6,480.9 94.2,480.2 100.7,480.2 C106.8,480.2 118.4,479.4 121.8,484.5 C127.1,492.5 124.9,508.6 126.0,518.2 C126.7,524.6 127.4,534.4 128.3,540.8 C129.2,547.2 130.9,557.0 132.2,563.3 C133.4,568.9 138.2,577.3 137.3,583.0 C136.3,589.4 131.5,599.4 126.0,602.7 C117.6,607.7 102.0,609.3 92.2,609.7 C81.0,610.1 57.0,615.9 52.8,605.5 L52.8,512.6Z" fill="#8bbcf4" filter="url(#bl4)"/>
<path d="M52.8,532.3 C57.0,519.4 68.6,501.2 78.2,491.5 C82.9,486.7 94.0,484.2 100.7,483.9 C106.5,483.6 117.2,484.7 120.4,489.5 C125.0,496.3 123.0,510.1 123.8,518.2 C124.4,524.6 125.0,534.4 125.5,540.8 C126.0,546.8 128.8,556.1 127.4,561.9 C126.4,566.0 121.6,571.8 117.6,573.1 C108.5,576.1 93.4,576.6 83.8,576.0 C74.8,575.4 58.0,576.2 52.8,568.9 C46.8,560.4 49.6,542.2 52.8,532.3Z" fill="#88ceea" filter="url(#bl4)"/>
<path d="M380.0,40.0 L372.0,50.2 L348.3,54.6 L330.0,62.0 L336.9,62.9 L324.7,70.5 L315.5,82.7 L306.4,94.9 L291.1,110.2 L277.4,120.0 L266.7,125.5 L260.6,133.1 L257.5,137.7 L245.3,145.3" fill="none" stroke="#8adde5" stroke-width="62.0" stroke-linejoin="round" stroke-linecap="round"/><path d="M257.5,137.7 L245.3,145.3 L233.1,152.9 L222.4,159.6 L217.2,165.1 L218.5,174.3 L213.3,179.8 L208.7,183.4 L193.4,188.0 L181.2,189.5 L176.7,194.1 L175.1,198.7 L170.5,209.4 L156.8,206.3 L144.6,212.4 L138.5,220.1 L137.0,226.2 L133.9,238.4 L137.0,256.7 L138.5,271.9 L141.6,284.2 L143.1,298.3 L141.6,319.7 L135.5,341.0 L124.8,356.3 L121.7,371.6 L124.8,389.9 L126.3,417.3 L115.6,418.9 L104.9,421.9 L98.8,435.6 L91.2,449.4 L92.7,457.0 L80.5,461.6 L68.3,466.2 L60.7,481.4 L56.1,493.6 L45.0,500.0" fill="none" stroke="#8adde5" stroke-width="54.0" stroke-linejoin="round" stroke-linecap="round"/><path d="M135.9,450.7 L147.1,449.3 L159.8,453.5 L168.2,460.5 L175.3,473.2 L180.1,487.3 L182.3,492.9 L189.4,505.6 L196.4,519.7 L200.1,535.1 L200.6,546.4 L196.4,559.1 L185.1,568.9 L176.7,576.0 L171.1,580.2 L158.4,584.4 L145.7,582.4 L137.8,575.1 L131.6,560.5 L127.4,538.0 L124.6,512.6 L126.0,492.9 L129.7,473.2 L134.5,454.9Z" fill="none" stroke="#8adde5" stroke-width="24.0" stroke-linejoin="round" stroke-linecap="round"/><path d="M380.0,40.0 L372.0,50.2 L348.3,54.6 L330.0,62.0 L336.9,62.9 L324.7,70.5 L315.5,82.7 L306.4,94.9 L291.1,110.2 L277.4,120.0 L266.7,125.5 L260.6,133.1 L257.5,137.7 L245.3,145.3" fill="none" stroke="#8aebd6" stroke-width="55.0" stroke-linejoin="round" stroke-linecap="round"/><path d="M257.5,137.7 L245.3,145.3 L233.1,152.9 L222.4,159.6 L217.2,165.1 L218.5,174.3 L213.3,179.8 L208.7,183.4 L193.4,188.0 L181.2,189.5 L176.7,194.1 L175.1,198.7 L170.5,209.4 L156.8,206.3 L144.6,212.4 L138.5,220.1 L137.0,226.2 L133.9,238.4 L137.0,256.7 L138.5,271.9 L141.6,284.2 L143.1,298.3 L141.6,319.7 L135.5,341.0 L124.8,356.3 L121.7,371.6 L124.8,389.9 L126.3,417.3 L115.6,418.9 L104.9,421.9 L98.8,435.6 L91.2,449.4 L92.7,457.0 L80.5,461.6 L68.3,466.2 L60.7,481.4 L56.1,493.6 L45.0,500.0" fill="none" stroke="#8aebd6" stroke-width="48.0" stroke-linejoin="round" stroke-linecap="round"/><path d="M135.9,450.7 L147.1,449.3 L159.8,453.5 L168.2,460.5 L175.3,473.2 L180.1,487.3 L182.3,492.9 L189.4,505.6 L196.4,519.7 L200.1,535.1 L200.6,546.4 L196.4,559.1 L185.1,568.9 L176.7,576.0 L171.1,580.2 L158.4,584.4 L145.7,582.4 L137.8,575.1 L131.6,560.5 L127.4,538.0 L124.6,512.6 L126.0,492.9 L129.7,473.2 L134.5,454.9Z" fill="none" stroke="#8aebd6" stroke-width="20.0" stroke-linejoin="round" stroke-linecap="round"/><path d="M380.0,40.0 L372.0,50.2 L348.3,54.6 L330.0,62.0 L336.9,62.9 L324.7,70.5 L315.5,82.7 L306.4,94.9 L291.1,110.2 L277.4,120.0 L266.7,125.5 L260.6,133.1 L257.5,137.7 L245.3,145.3" fill="none" stroke="#90efc6" stroke-width="52.0" stroke-linejoin="round" stroke-linecap="round"/><path d="M257.5,137.7 L245.3,145.3 L233.1,152.9 L222.4,159.6 L217.2,165.1 L218.5,174.3 L213.3,179.8 L208.7,183.4 L193.4,188.0 L181.2,189.5 L176.7,194.1 L175.1,198.7 L170.5,209.4 L156.8,206.3 L144.6,212.4 L138.5,220.1 L137.0,226.2 L133.9,238.4 L137.0,256.7 L138.5,271.9 L141.6,284.2 L143.1,298.3 L141.6,319.7 L135.5,341.0 L124.8,356.3 L121.7,371.6 L124.8,389.9 L126.3,417.3 L115.6,418.9 L104.9,421.9 L98.8,435.6 L91.2,449.4 L92.7,457.0 L80.5,461.6 L68.3,466.2 L60.7,481.4 L56.1,493.6 L45.0,500.0" fill="none" stroke="#90efc6" stroke-width="45.0" stroke-linejoin="round" stroke-linecap="round"/><path d="M135.9,450.7 L147.1,449.3 L159.8,453.5 L168.2,460.5 L175.3,473.2 L180.1,487.3 L182.3,492.9 L189.4,505.6 L196.4,519.7 L200.1,535.1 L200.6,546.4 L196.4,559.1 L185.1,568.9 L176.7,576.0 L171.1,580.2 L158.4,584.4 L145.7,582.4 L137.8,575.1 L131.6,560.5 L127.4,538.0 L124.6,512.6 L126.0,492.9 L129.7,473.2 L134.5,454.9Z" fill="none" stroke="#90efc6" stroke-width="18.0" stroke-linejoin="round" stroke-linecap="round"/><path d="M380.0,40.0 L372.0,50.2 L348.3,54.6 L330.0,62.0 L336.9,62.9 L324.7,70.5 L315.5,82.7 L306.4,94.9 L291.1,110.2 L277.4,120.0 L266.7,125.5 L260.6,133.1 L257.5,137.7 L245.3,145.3" fill="none" stroke="#98efb8" stroke-width="49.0" stroke-linejoin="round" stroke-linecap="round"/><path d="M257.5,137.7 L245.3,145.3 L233.1,152.9 L222.4,159.6 L217.2,165.1 L218.5,174.3 L213.3,179.8 L208.7,183.4 L193.4,188.0 L181.2,189.5 L176.7,194.1 L175.1,198.7 L170.5,209.4 L156.8,206.3 L144.6,212.4 L138.5,220.1 L137.0,226.2 L133.9,238.4 L137.0,256.7 L138.5,271.9 L141.6,284.2 L143.1,298.3 L141.6,319.7 L135.5,341.0 L124.8,356.3 L121.7,371.6 L124.8,389.9 L126.3,417.3 L115.6,418.9 L104.9,421.9 L98.8,435.6 L91.2,449.4 L92.7,457.0 L80.5,461.6 L68.3,466.2 L60.7,481.4 L56.1,493.6 L45.0,500.0" fill="none" stroke="#98efb8" stroke-width="42.0" stroke-linejoin="round" stroke-linecap="round"/><path d="M135.9,450.7 L147.1,449.3 L159.8,453.5 L168.2,460.5 L175.3,473.2 L180.1,487.3 L182.3,492.9 L189.4,505.6 L196.4,519.7 L200.1,535.1 L200.6,546.4 L196.4,559.1 L185.1,568.9 L176.7,576.0 L171.1,580.2 L158.4,584.4 L145.7,582.4 L137.8,575.1 L131.6,560.5 L127.4,538.0 L124.6,512.6 L126.0,492.9 L129.7,473.2 L134.5,454.9Z" fill="none" stroke="#98efb8" stroke-width="16.0" stroke-linejoin="round" stroke-linecap="round"/><path d="M380.0,40.0 L372.0,50.2 L348.3,54.6 L330.0,62.0 L336.9,62.9 L324.7,70.5 L315.5,82.7 L306.4,94.9 L291.1,110.2 L277.4,120.0 L266.7,125.5 L260.6,133.1 L257.5,137.7 L245.3,145.3" fill="none" stroke="#a2e8ae" stroke-width="46.0" stroke-linejoin="round" stroke-linecap="round"/><path d="M257.5,137.7 L245.3,145.3 L233.1,152.9 L222.4,159.6 L217.2,165.1 L218.5,174.3 L213.3,179.8 L208.7,183.4 L193.4,188.0 L181.2,189.5 L176.7,194.1 L175.1,198.7 L170.5,209.4 L156.8,206.3 L144.6,212.4 L138.5,220.1 L137.0,226.2 L133.9,238.4 L137.0,256.7 L138.5,271.9 L141.6,284.2 L143.1,298.3 L141.6,319.7 L135.5,341.0 L124.8,356.3 L121.7,371.6 L124.8,389.9 L126.3,417.3 L115.6,418.9 L104.9,421.9 L98.8,435.6 L91.2,449.4 L92.7,457.0 L80.5,461.6 L68.3,466.2 L60.7,481.4 L56.1,493.6 L45.0,500.0" fill="none" stroke="#a2e8ae" stroke-width="39.0" stroke-linejoin="round" stroke-linecap="round"/><path d="M135.9,450.7 L147.1,449.3 L159.8,453.5 L168.2,460.5 L175.3,473.2 L180.1,487.3 L182.3,492.9 L189.4,505.6 L196.4,519.7 L200.1,535.1 L200.6,546.4 L196.4,559.1 L185.1,568.9 L176.7,576.0 L171.1,580.2 L158.4,584.4 L145.7,582.4 L137.8,575.1 L131.6,560.5 L127.4,538.0 L124.6,512.6 L126.0,492.9 L129.7,473.2 L134.5,454.9Z" fill="none" stroke="#a2e8ae" stroke-width="14.0" stroke-linejoin="round" stroke-linecap="round"/><path d="M380.0,40.0 L372.0,50.2 L348.3,54.6 L330.0,62.0 L336.9,62.9 L324.7,70.5 L315.5,82.7 L306.4,94.9 L291.1,110.2 L277.4,120.0 L266.7,125.5 L260.6,133.1 L257.5,137.7 L245.3,145.3" fill="none" stroke="#b2dea6" stroke-width="43.0" stroke-linejoin="round" stroke-linecap="round"/><path d="M257.5,137.7 L245.3,145.3 L233.1,152.9 L222.4,159.6 L217.2,165.1 L218.5,174.3 L213.3,179.8 L208.7,183.4 L193.4,188.0 L181.2,189.5 L176.7,194.1 L175.1,198.7 L170.5,209.4 L156.8,206.3 L144.6,212.4 L138.5,220.1 L137.0,226.2 L133.9,238.4 L137.0,256.7 L138.5,271.9 L141.6,284.2 L143.1,298.3 L141.6,319.7 L135.5,341.0 L124.8,356.3 L121.7,371.6 L124.8,389.9 L126.3,417.3 L115.6,418.9 L104.9,421.9 L98.8,435.6 L91.2,449.4 L92.7,457.0 L80.5,461.6 L68.3,466.2 L60.7,481.4 L56.1,493.6 L45.0,500.0" fill="none" stroke="#b2dea6" stroke-width="36.0" stroke-linejoin="round" stroke-linecap="round"/><path d="M135.9,450.7 L147.1,449.3 L159.8,453.5 L168.2,460.5 L175.3,473.2 L180.1,487.3 L182.3,492.9 L189.4,505.6 L196.4,519.7 L200.1,535.1 L200.6,546.4 L196.4,559.1 L185.1,568.9 L176.7,576.0 L171.1,580.2 L158.4,584.4 L145.7,582.4 L137.8,575.1 L131.6,560.5 L127.4,538.0 L124.6,512.6 L126.0,492.9 L129.7,473.2 L134.5,454.9Z" fill="none" stroke="#b2dea6" stroke-width="12.0" stroke-linejoin="round" stroke-linecap="round"/><path d="M380.0,40.0 L372.0,50.2 L348.3,54.6 L330.0,62.0 L336.9,62.9 L324.7,70.5 L315.5,82.7 L306.4,94.9 L291.1,110.2 L277.4,120.0 L266.7,125.5 L260.6,133.1 L257.5,137.7 L245.3,145.3" fill="none" stroke="#c4dca3" stroke-width="39.0" stroke-linejoin="round" stroke-linecap="round"/><path d="M257.5,137.7 L245.3,145.3 L233.1,152.9 L222.4,159.6 L217.2,165.1 L218.5,174.3 L213.3,179.8 L208.7,183.4 L193.4,188.0 L181.2,189.5 L176.7,194.1 L175.1,198.7 L170.5,209.4 L156.8,206.3 L144.6,212.4 L138.5,220.1 L137.0,226.2 L133.9,238.4 L137.0,256.7 L138.5,271.9 L141.6,284.2 L143.1,298.3 L141.6,319.7 L135.5,341.0 L124.8,356.3 L121.7,371.6 L124.8,389.9 L126.3,417.3 L115.6,418.9 L104.9,421.9 L98.8,435.6 L91.2,449.4 L92.7,457.0 L80.5,461.6 L68.3,466.2 L60.7,481.4 L56.1,493.6 L45.0,500.0" fill="none" stroke="#c4dca3" stroke-width="32.0" stroke-linejoin="round" stroke-linecap="round"/><path d="M135.9,450.7 L147.1,449.3 L159.8,453.5 L168.2,460.5 L175.3,473.2 L180.1,487.3 L182.3,492.9 L189.4,505.6 L196.4,519.7 L200.1,535.1 L200.6,546.4 L196.4,559.1 L185.1,568.9 L176.7,576.0 L171.1,580.2 L158.4,584.4 L145.7,582.4 L137.8,575.1 L131.6,560.5 L127.4,538.0 L124.6,512.6 L126.0,492.9 L129.7,473.2 L134.5,454.9Z" fill="none" stroke="#c4dca3" stroke-width="10.0" stroke-linejoin="round" stroke-linecap="round"/><path d="M380.0,40.0 L372.0,50.2 L348.3,54.6 L330.0,62.0 L336.9,62.9 L324.7,70.5 L315.5,82.7 L306.4,94.9 L291.1,110.2 L277.4,120.0 L266.7,125.5 L260.6,133.1 L257.5,137.7 L245.3,145.3" fill="none" stroke="#dcddae" stroke-width="34.0" stroke-linejoin="round" stroke-linecap="round"/><path d="M257.5,137.7 L245.3,145.3 L233.1,152.9 L222.4,159.6 L217.2,165.1 L218.5,174.3 L213.3,179.8 L208.7,183.4 L193.4,188.0 L181.2,189.5 L176.7,194.1 L175.1,198.7 L170.5,209.4 L156.8,206.3 L144.6,212.4 L138.5,220.1 L137.0,226.2 L133.9,238.4 L137.0,256.7 L138.5,271.9 L141.6,284.2 L143.1,298.3 L141.6,319.7 L135.5,341.0 L124.8,356.3 L121.7,371.6 L124.8,389.9 L126.3,417.3 L115.6,418.9 L104.9,421.9 L98.8,435.6 L91.2,449.4 L92.7,457.0 L80.5,461.6 L68.3,466.2 L60.7,481.4 L56.1,493.6 L45.0,500.0" fill="none" stroke="#dcddae" stroke-width="28.0" stroke-linejoin="round" stroke-linecap="round"/><path d="M135.9,450.7 L147.1,449.3 L159.8,453.5 L168.2,460.5 L175.3,473.2 L180.1,487.3 L182.3,492.9 L189.4,505.6 L196.4,519.7 L200.1,535.1 L200.6,546.4 L196.4,559.1 L185.1,568.9 L176.7,576.0 L171.1,580.2 L158.4,584.4 L145.7,582.4 L137.8,575.1 L131.6,560.5 L127.4,538.0 L124.6,512.6 L126.0,492.9 L129.7,473.2 L134.5,454.9Z" fill="none" stroke="#dcddae" stroke-width="8.0" stroke-linejoin="round" stroke-linecap="round"/><path d="M380.0,40.0 L372.0,50.2 L348.3,54.6 L330.0,62.0 L336.9,62.9 L324.7,70.5 L315.5,82.7 L306.4,94.9 L291.1,110.2 L277.4,120.0 L266.7,125.5 L260.6,133.1 L257.5,137.7 L245.3,145.3" fill="none" stroke="#f0eecb" stroke-width="22.0" stroke-linejoin="round" stroke-linecap="round"/><path d="M257.5,137.7 L245.3,145.3 L233.1,152.9 L222.4,159.6 L217.2,165.1 L218.5,174.3 L213.3,179.8 L208.7,183.4 L193.4,188.0 L181.2,189.5 L176.7,194.1 L175.1,198.7 L170.5,209.4 L156.8,206.3 L144.6,212.4 L138.5,220.1 L137.0,226.2 L133.9,238.4 L137.0,256.7 L138.5,271.9 L141.6,284.2 L143.1,298.3 L141.6,319.7 L135.5,341.0 L124.8,356.3 L121.7,371.6 L124.8,389.9 L126.3,417.3 L115.6,418.9 L104.9,421.9 L98.8,435.6 L91.2,449.4 L92.7,457.0 L80.5,461.6 L68.3,466.2 L60.7,481.4 L56.1,493.6 L45.0,500.0" fill="none" stroke="#f0eecb" stroke-width="19.0" stroke-linejoin="round" stroke-linecap="round"/><path d="M135.9,450.7 L147.1,449.3 L159.8,453.5 L168.2,460.5 L175.3,473.2 L180.1,487.3 L182.3,492.9 L189.4,505.6 L196.4,519.7 L200.1,535.1 L200.6,546.4 L196.4,559.1 L185.1,568.9 L176.7,576.0 L171.1,580.2 L158.4,584.4 L145.7,582.4 L137.8,575.1 L131.6,560.5 L127.4,538.0 L124.6,512.6 L126.0,492.9 L129.7,473.2 L134.5,454.9Z" fill="none" stroke="#f0eecb" stroke-width="5.6" stroke-linejoin="round" stroke-linecap="round"/>
<path d="M372.0,48.0 L440.0,48.0 L410.0,58.0 L372.0,68.0 L345.0,82.0 L330.0,80.0Z" fill="#dcddae"/>
<path d="M372.0,48.0 L405.0,48.0 L385.0,56.0 L352.0,66.0 L335.0,70.0Z" fill="#f0eecb"/>
<path d="M126.0,397.2 L144.3,397.2 L149.1,416.9 L160.4,431.0 L166.0,442.2 L173.9,456.3 L177.3,469.0 L168.2,460.5 L159.8,453.5 L147.1,449.3 L134.5,454.9 L130.2,470.4 L117.6,460.5 L95.0,460.5 L83.8,463.3 L92.2,445.0 L100.7,421.1 L114.8,416.9Z" fill="none" stroke="#c4dca3" stroke-width="9" stroke-linejoin="round"/>
<path d="M126.0,397.2 L144.3,397.2 L149.1,416.9 L160.4,431.0 L166.0,442.2 L173.9,456.3 L177.3,469.0 L168.2,460.5 L159.8,453.5 L147.1,449.3 L134.5,454.9 L130.2,470.4 L117.6,460.5 L95.0,460.5 L83.8,463.3 L92.2,445.0 L100.7,421.1 L114.8,416.9Z" fill="#f0eecb" stroke="#dcddae" stroke-width="4" stroke-linejoin="round"/>
<path d="M126.0,397.2 L144.3,397.2 L149.1,416.9 L160.4,431.0 L166.0,442.2 L173.9,456.3 L177.3,469.0 L168.2,460.5 L159.8,453.5 L147.1,449.3 L134.5,454.9 L130.2,470.4 L117.6,460.5 L95.0,460.5 L83.8,463.3 L92.2,445.0 L100.7,421.1 L114.8,416.9Z" fill="#f0eecb"/>
</g>
<g fill="#606060" filter="url(#bl2)">
<path d="M56.5,50.2 L372.0,50.2 L348.3,54.6 L330.0,62.0 L336.9,62.9 L324.7,70.5 L315.5,82.7 L306.4,94.9 L291.1,110.2 L277.4,120.0 L266.7,125.5 L260.6,133.1 L257.5,137.7 L245.3,145.3 L233.1,152.9 L222.4,159.6 L217.2,165.1 L218.5,174.3 L213.3,179.8 L208.7,183.4 L193.4,188.0 L181.2,189.5 L176.7,194.1 L175.1,198.7 L170.5,209.4 L156.8,206.3 L144.6,212.4 L138.5,220.1 L137.0,226.2 L133.9,238.4 L137.0,256.7 L138.5,271.9 L141.6,284.2 L143.1,298.3 L141.6,319.7 L135.5,341.0 L124.8,356.3 L121.7,371.6 L124.8,389.9 L126.3,417.3 L115.6,418.9 L104.9,421.9 L98.8,435.6 L91.2,449.4 L92.7,457.0 L80.5,461.6 L68.3,466.2 L60.7,481.4 L56.1,493.6 L56.5,494.0Z"/>
<path d="M135.9,450.7 L147.1,449.3 L159.8,453.5 L168.2,460.5 L175.3,473.2 L180.1,487.3 L182.3,492.9 L189.4,505.6 L196.4,519.7 L200.1,535.1 L200.6,546.4 L196.4,559.1 L185.1,568.9 L176.7,576.0 L171.1,580.2 L158.4,584.4 L145.7,582.4 L137.8,575.1 L131.6,560.5 L127.4,538.0 L124.6,512.6 L126.0,492.9 L129.7,473.2 L134.5,454.9Z"/>
<path d="M882.0,50.2 L645.8,50.7 L650.4,61.4 L659.5,73.6 L661.1,88.8 L668.7,104.1 L674.8,119.4 L678.8,140.7 L676.3,156.0 L670.8,168.2 L667.8,183.5 L665.6,198.7 L673.3,201.8 L680.9,192.6 L682.4,201.8 L691.6,209.4 L697.7,201.8 L699.2,207.9 L709.9,210.9 L722.1,198.7 L743.5,185.0 L739.8,172.8 L746.5,181.9 L755.7,174.3 L763.3,159.1 L764.8,148.4 L769.4,151.4 L775.5,162.1 L783.2,177.4 L792.3,183.5 L787.7,189.6 L792.3,192.6 L793.8,204.8 L798.4,223.2 L799.9,238.4 L804.5,253.7 L810.6,272.0 L814.7,280.0 L822.9,293.1 L829.5,312.9 L832.8,332.6 L834.5,352.3 L836.1,372.0 L832.8,391.8 L824.6,408.2 L827.9,427.9 L824.6,447.6 L819.7,467.4 L816.4,483.8 L819.7,498.6 L829.5,493.6 L839.4,506.8 L849.2,519.9 L859.1,533.1 L872.3,546.2 L880.5,560.0 L870.6,540.0 L875.5,553.1 L881.5,559.7 L882.0,562.0 L882.0,494.0 L878.0,486.6 L876.0,467.3 L872.0,455.7 L862.5,459.5 L854.8,455.7 L852.8,436.3 L851.0,417.0 L856.7,401.5 L862.5,386.0 L872.0,370.6 L880.7,359.0 L882.0,357.0Z"/>
<path d="M702.7,601.1 L707.5,597.5 L712.5,596.9 L726.6,605.4 L740.7,612.4 L760.4,612.7 L785.8,612.7 L797.0,625.1 L808.3,639.2 L815.4,644.8 L813.9,653.2 L825.2,661.7 L839.3,673.0 L856.2,684.2 L873.1,695.5 L887.2,708.2 L887.2,815.2 L881.5,811.0 L864.6,805.4 L853.4,799.7 L847.7,788.5 L843.5,777.2 L837.9,763.1 L836.5,749.0 L825.2,740.6 L811.1,732.1 L798.5,723.7 L794.2,712.4 L783.0,695.5 L771.7,678.6 L760.4,670.1 L746.3,661.7 L732.3,647.6 L718.2,633.5 L706.9,616.6Z"/>
<path d="M131.1,439.4 C131.6,438.4 133.4,437.3 134.5,437.2 C136.0,437.1 138.3,438.0 139.5,438.9 C141.2,440.3 142.9,443.3 144.3,445.0 C145.4,446.3 148.2,447.6 148.5,449.3 C148.7,450.3 146.8,451.9 145.7,451.8 C143.9,451.6 141.6,449.5 140.1,448.4 C138.8,447.4 137.2,445.2 135.9,444.2 C135.0,443.5 133.0,443.0 132.2,442.2 C131.6,441.6 130.7,440.2 131.1,439.4Z"/>
<path d="M616.5,295.8 C617.9,295.1 620.3,297.6 620.8,299.1 C621.7,301.9 621.7,306.7 621.1,309.6 C620.7,311.5 619.3,314.7 617.5,315.5 C616.2,316.0 613.6,314.3 613.2,312.9 C612.4,310.2 613.1,305.8 613.6,303.0 C614.0,300.8 614.6,296.8 616.5,295.8Z"/>
<path d="M612.6,319.4 C613.9,318.6 617.2,319.7 617.8,321.1 C619.1,324.1 618.8,329.3 618.5,332.6 C618.2,335.5 617.6,340.2 615.9,342.5 C614.9,343.9 611.3,345.2 610.0,344.1 C608.2,342.6 608.1,338.3 608.0,335.9 C607.9,333.1 608.5,328.7 609.3,326.0 C609.9,324.0 610.8,320.4 612.6,319.4Z"/>
<path d="M607.7,349.0 C608.7,348.0 612.0,348.4 612.6,349.7 C613.9,352.5 613.5,357.5 613.2,360.5 C612.8,364.3 612.5,370.8 610.0,373.7 C608.8,375.1 606.7,370.4 606.0,368.7 C604.8,366.1 603.2,361.8 603.4,358.9 C603.7,355.9 605.5,351.2 607.7,349.0Z"/>
<path d="M596.8,399.0 C597.5,397.9 600.4,398.1 601.4,399.0 C602.7,400.2 603.6,403.1 603.4,404.9 C603.2,406.6 601.7,409.3 600.1,409.8 C598.7,410.3 595.9,408.9 595.5,407.5 C594.8,405.2 595.4,401.0 596.8,399.0Z"/>
<path d="M633.0,506.1 C633.3,505.1 635.4,504.3 636.3,504.8 C637.3,505.4 638.0,507.7 637.6,508.8 C637.3,509.8 635.2,511.2 634.3,510.7 C633.1,510.0 632.6,507.4 633.0,506.1Z"/>
<path d="M637.6,505.5 C637.9,504.8 639.6,504.0 640.2,504.5 C641.0,505.1 641.3,507.1 640.9,508.1 C640.6,508.8 638.8,509.6 638.2,509.1 C637.4,508.5 637.2,506.4 637.6,505.5Z"/>
<path d="M641.5,530.5 C642.0,529.4 644.4,528.6 645.5,529.1 C646.6,529.6 647.3,532.0 646.8,533.1 C646.3,534.2 643.9,534.9 642.8,534.4 C641.8,533.9 641.0,531.5 641.5,530.5Z"/>
<path d="M646.1,536.4 C647.2,535.3 650.3,536.0 651.4,537.0 C653.1,538.6 654.5,542.3 654.7,544.6 C654.9,547.0 654.4,551.2 652.7,552.8 C651.7,553.7 649.5,551.3 648.7,550.2 C647.4,548.4 645.9,545.1 645.5,542.9 C645.2,541.1 644.8,537.7 646.1,536.4Z"/>
<path d="M819.0,330.9 C819.7,329.7 822.5,328.4 823.6,329.3 C825.1,330.5 825.2,334.0 824.9,335.9 C824.6,337.8 823.3,340.9 821.6,341.8 C820.5,342.3 818.6,340.4 818.3,339.2 C817.8,336.9 817.9,333.0 819.0,330.9Z"/>
<path d="M809.8,341.8 C810.4,340.9 812.8,340.4 813.7,341.1 C814.6,341.8 815.1,344.2 814.4,345.1 C813.8,346.0 811.4,346.4 810.5,345.7 C809.6,345.0 809.2,342.7 809.8,341.8Z"/>
<path d="M822.3,354.0 C823.8,352.6 827.6,352.2 829.5,353.0 C831.0,353.6 832.7,356.6 832.2,358.2 C831.7,359.8 828.6,360.8 826.9,360.9 C825.6,361.0 823.6,360.0 822.9,358.9 C822.1,357.7 821.3,354.9 822.3,354.0Z"/>
<path d="M819.7,362.2 C820.8,361.2 823.8,360.6 824.9,361.5 C826.4,362.7 827.3,366.2 826.9,368.1 C826.6,369.3 824.1,370.4 822.9,370.1 C821.5,369.7 820.2,367.4 819.7,366.1 C819.3,365.1 818.9,362.9 819.7,362.2Z"/>
<path d="M829.5,363.8 C830.3,362.3 833.9,361.3 835.4,362.2 C836.9,363.1 837.6,366.6 836.8,368.1 C836.1,369.5 832.8,370.2 831.5,369.4 C830.0,368.5 828.7,365.3 829.5,363.8Z"/>
<path d="M792.1,357.6 C792.6,357.0 794.2,357.0 794.7,357.6 C795.3,358.3 795.3,360.2 794.7,360.9 C794.2,361.5 792.6,361.5 792.1,360.9 C791.5,360.2 791.5,358.3 792.1,357.6Z"/>
<path d="M815.1,428.6 C815.6,428.1 817.2,428.1 817.7,428.6 C818.2,429.1 818.2,430.7 817.7,431.2 C817.2,431.7 815.6,431.7 815.1,431.2 C814.6,430.7 814.6,429.1 815.1,428.6Z"/>
<path d="M818.3,502.2 C818.8,501.1 821.7,499.9 822.3,500.9 C823.6,503.2 823.4,507.5 822.9,510.1 C822.6,511.5 821.1,514.0 819.7,514.0 C818.5,514.0 817.8,511.3 817.7,510.1 C817.4,507.9 817.3,504.2 818.3,502.2Z"/>
<path d="M638.2,70.5 C638.9,68.3 643.5,68.1 645.8,68.1 C648.7,68.1 653.2,69.0 655.6,70.5 C656.8,71.2 658.1,73.9 657.4,75.1 C656.6,76.5 652.2,75.0 651.9,76.6 C651.4,79.4 655.3,83.0 655.6,85.8 C655.8,87.2 654.8,90.4 653.4,90.4 C651.6,90.4 650.0,87.2 648.8,85.8 C647.0,83.7 644.3,80.5 642.7,78.2 C641.3,76.1 637.5,72.9 638.2,70.5Z"/>
<path d="M640.3,91.9 C641.1,91.0 643.5,90.7 644.6,91.3 C645.7,92.0 646.6,94.3 646.4,95.6 C646.2,96.8 644.5,98.4 643.3,98.6 C642.1,98.8 640.2,97.6 639.7,96.5 C639.2,95.3 639.4,92.9 640.3,91.9Z"/>
<path d="M635.4,52.2 C636.0,51.6 637.9,51.6 638.5,52.2 C639.1,52.8 639.1,54.7 638.5,55.3 C637.9,55.9 636.0,55.9 635.4,55.3 C634.8,54.7 634.8,52.8 635.4,52.2Z"/>
<path d="M786.8,183.5 C787.2,182.3 790.5,181.8 791.1,182.9 C792.4,185.1 792.5,189.5 791.7,192.0 C791.4,193.0 788.5,193.5 788.0,192.6 C786.7,190.3 786.0,186.0 786.8,183.5Z"/>
<path d="M723.4,701.7 C724.4,700.7 727.1,700.4 728.3,701.1 C731.4,702.8 734.8,707.1 737.5,709.3 C740.6,711.8 746.4,714.4 749.0,717.5 C749.8,718.5 749.2,721.6 748.0,721.8 C745.4,722.2 741.5,720.2 739.1,719.1 C735.7,717.6 730.6,714.8 727.6,712.6 C725.8,711.3 723.2,709.0 722.4,707.0 C721.9,705.6 722.3,702.8 723.4,701.7Z"/>
<path d="M776.9,757.6 C777.7,755.3 782.9,754.4 785.1,755.3 C788.7,756.8 792.3,762.3 795.0,765.1 C797.2,767.4 801.5,770.4 802.6,773.4 C803.8,776.9 803.8,783.0 802.6,786.5 C802.1,788.0 798.6,789.4 797.3,788.5 C794.3,786.6 792.2,781.1 790.1,778.3 C787.6,775.0 783.1,770.3 780.9,766.8 C779.4,764.4 775.9,760.3 776.9,757.6Z"/>
<path d="M770.7,730.0 C771.2,729.4 773.1,729.4 773.6,730.0 C774.2,730.7 774.2,732.6 773.6,733.3 C773.1,733.9 771.2,733.9 770.7,733.3 C770.1,732.6 770.1,730.7 770.7,730.0Z"/>
<path d="M777.3,727.4 C777.9,726.7 779.9,726.7 780.5,727.4 C781.2,728.3 781.2,730.4 780.5,731.3 C779.9,732.0 777.9,732.0 777.3,731.3 C776.6,730.4 776.6,728.3 777.3,727.4Z"/>
<path d="M827.9,804.9 C829.9,803.6 833.9,803.6 836.1,804.3 C837.2,804.6 839.1,807.3 838.1,807.9 C835.9,809.3 831.4,809.6 828.9,808.9 C827.8,808.6 826.9,805.5 827.9,804.9Z"/>
<path d="M868.3,560.4 C868.7,559.5 870.8,558.5 871.6,559.1 C872.6,559.9 872.9,562.5 872.3,563.7 C871.9,564.6 869.7,564.9 869.0,564.3 C868.1,563.6 867.8,561.4 868.3,560.4Z"/>
<path d="M870.6,566.3 C871.9,564.6 876.4,564.4 878.2,565.6 C879.8,566.7 880.6,570.7 879.5,572.2 C878.3,573.9 874.0,574.6 872.3,573.5 C870.6,572.3 869.3,568.0 870.6,566.3Z"/>
<path d="M615.3,294.9 C616.1,293.7 619.0,292.5 620.1,293.4 C621.7,294.6 623.1,298.5 622.0,300.1 C620.9,301.6 616.8,301.3 615.3,300.1 C614.1,299.2 614.4,296.1 615.3,294.9Z"/>
</g>
</g>
<rect x="52.3" y="46.0" width="834.1" height="770.6" fill="none" stroke="#b0b0b0" stroke-width="0.6"/>
<path d="M52.3,46.0H886.4V816.6H52.3Z M56.5,50.2V812.3H882.0V50.2Z" fill="#fff" fill-rule="evenodd"/>
<rect x="94.0" y="46.0" width="37.5" height="4.2" fill="#000"/>
<rect x="94.0" y="812.3" width="37.5" height="4.3" fill="#000"/>
<rect x="169.1" y="46.0" width="37.5" height="4.2" fill="#000"/>
<rect x="169.1" y="812.3" width="37.5" height="4.3" fill="#000"/>
<rect x="244.1" y="46.0" width="37.5" height="4.2" fill="#000"/>
<rect x="244.1" y="812.3" width="37.5" height="4.3" fill="#000"/>
<rect x="319.2" y="46.0" width="37.5" height="4.2" fill="#000"/>
<rect x="319.2" y="812.3" width="37.5" height="4.3" fill="#000"/>
<rect x="394.2" y="46.0" width="37.5" height="4.2" fill="#000"/>
<rect x="394.2" y="812.3" width="37.5" height="4.3" fill="#000"/>
<rect x="469.2" y="46.0" width="37.5" height="4.2" fill="#000"/>
<rect x="469.2" y="812.3" width="37.5" height="4.3" fill="#000"/>
<rect x="544.3" y="46.0" width="37.5" height="4.2" fill="#000"/>
<rect x="544.3" y="812.3" width="37.5" height="4.3" fill="#000"/>
<rect x="619.3" y="46.0" width="37.5" height="4.2" fill="#000"/>
<rect x="619.3" y="812.3" width="37.5" height="4.3" fill="#000"/>
<rect x="694.4" y="46.0" width="37.5" height="4.2" fill="#000"/>
<rect x="694.4" y="812.3" width="37.5" height="4.3" fill="#000"/>
<rect x="769.4" y="46.0" width="37.5" height="4.2" fill="#000"/>
<rect x="769.4" y="812.3" width="37.5" height="4.3" fill="#000"/>
<rect x="844.5" y="46.0" width="37.5" height="4.2" fill="#000"/>
<rect x="844.5" y="812.3" width="37.5" height="4.3" fill="#000"/>
<rect x="52.3" y="736.1" width="4.2" height="38.1" fill="#000"/>
<rect x="882.0" y="736.1" width="4.4" height="38.1" fill="#000"/>
<rect x="52.3" y="659.9" width="4.2" height="38.1" fill="#000"/>
<rect x="882.0" y="659.9" width="4.4" height="38.1" fill="#000"/>
<rect x="52.3" y="583.7" width="4.2" height="38.1" fill="#000"/>
<rect x="882.0" y="583.7" width="4.4" height="38.1" fill="#000"/>
<rect x="52.3" y="507.5" width="4.2" height="38.1" fill="#000"/>
<rect x="882.0" y="507.5" width="4.4" height="38.1" fill="#000"/>
<rect x="52.3" y="431.2" width="4.2" height="38.1" fill="#000"/>
<rect x="882.0" y="431.2" width="4.4" height="38.1" fill="#000"/>
<rect x="52.3" y="355.0" width="4.2" height="38.1" fill="#000"/>
<rect x="882.0" y="355.0" width="4.4" height="38.1" fill="#000"/>
<rect x="52.3" y="278.8" width="4.2" height="38.1" fill="#000"/>
<rect x="882.0" y="278.8" width="4.4" height="38.1" fill="#000"/>
<rect x="52.3" y="202.6" width="4.2" height="38.1" fill="#000"/>
<rect x="882.0" y="202.6" width="4.4" height="38.1" fill="#000"/>
<rect x="52.3" y="126.4" width="4.2" height="38.1" fill="#000"/>
<rect x="882.0" y="126.4" width="4.4" height="38.1" fill="#000"/>
<rect x="52.3" y="50.2" width="4.2" height="38.1" fill="#000"/>
<rect x="882.0" y="50.2" width="4.4" height="38.1" fill="#000"/>
<rect x="52.3" y="46.0" width="834.1" height="770.6" fill="none" stroke="#999" stroke-width="0.5"/>
<text x="47.5" y="55.4" font-size="17.5" font-weight="bold" font-style="italic" text-anchor="end">20°N</text>
<text x="47.5" y="245.9" font-size="17.5" font-weight="bold" font-style="italic" text-anchor="end">15°N</text>
<text x="47.5" y="436.4" font-size="17.5" font-weight="bold" font-style="italic" text-anchor="end">10°N</text>
<text x="47.5" y="627.0" font-size="17.5" font-weight="bold" font-style="italic" text-anchor="end">5°N</text>
<text x="47.5" y="816.1" font-size="17.5" font-weight="bold" font-style="italic" text-anchor="end">EQ</text>
<text x="131.5" y="837" font-size="17.5" font-weight="bold" font-style="italic" text-anchor="middle">80°E</text>
<text x="319.2" y="837" font-size="17.5" font-weight="bold" font-style="italic" text-anchor="middle">85°E</text>
<text x="506.8" y="837" font-size="17.5" font-weight="bold" font-style="italic" text-anchor="middle">90°E</text>
<text x="694.4" y="837" font-size="17.5" font-weight="bold" font-style="italic" text-anchor="middle">95°E</text>
<text x="882.0" y="837" font-size="17.5" font-weight="bold" font-style="italic" text-anchor="middle">100°E</text>
<defs><clipPath id="cn"><path d="M-48.8,-16.5 L16.2,-16.5 L16.2,-32.5 L48.8,0 L16.2,32.5 L16.2,16.5 L-48.8,16.5 L-34.5,0Z"/></clipPath><clipPath id="cb"><path d="M-30.5,-22.3 L1.5,-22.3 L1.5,-42.5 L30.5,0 L1.5,42.5 L1.5,22.3 L-30.5,22.3Z"/></clipPath></defs>
<g transform="translate(160.6,633.7) rotate(0)"><path d="M-48.8,-16.5 L16.2,-16.5 L16.2,-32.5 L48.8,0 L16.2,32.5 L16.2,16.5 L-48.8,16.5 L-34.5,0Z" fill="#6a90e3" fill-opacity="0.86"/><g clip-path="url(#cn)"><path d="M-48.8,-16.5 L16.2,-16.5 L16.2,-32.5 L48.8,0 L16.2,32.5 L16.2,16.5 L-48.8,16.5 L-34.5,0Z" fill="none" stroke="#86a8ec" stroke-width="6" stroke-opacity="0.75"/><path d="M-34.5,0 L-48.8,16.5 L16.2,16.5 L16.2,32.5 L48.8,0" fill="none" stroke="#aecaf8" stroke-width="5.2" stroke-opacity="0.78" stroke-linejoin="miter"/><path d="M16.2,-16.5 L16.2,-32.5 M-48.8,-16.5 L-34.5,0" fill="none" stroke="#587cd2" stroke-width="5" stroke-opacity="0.45"/></g><path d="M-48.8,16.5 L16.2,16.5 L16.2,32.5 L48.8,0 L16.2,-32.5" fill="none" stroke="#5b7fd0" stroke-width="0.9" stroke-opacity="0.55"/></g>
<g transform="translate(285.5,633.7) rotate(0)"><path d="M-48.8,-16.5 L16.2,-16.5 L16.2,-32.5 L48.8,0 L16.2,32.5 L16.2,16.5 L-48.8,16.5 L-34.5,0Z" fill="#6a90e3" fill-opacity="0.86"/><g clip-path="url(#cn)"><path d="M-48.8,-16.5 L16.2,-16.5 L16.2,-32.5 L48.8,0 L16.2,32.5 L16.2,16.5 L-48.8,16.5 L-34.5,0Z" fill="none" stroke="#86a8ec" stroke-width="6" stroke-opacity="0.75"/><path d="M-34.5,0 L-48.8,16.5 L16.2,16.5 L16.2,32.5 L48.8,0" fill="none" stroke="#aecaf8" stroke-width="5.2" stroke-opacity="0.78" stroke-linejoin="miter"/><path d="M16.2,-16.5 L16.2,-32.5 M-48.8,-16.5 L-34.5,0" fill="none" stroke="#587cd2" stroke-width="5" stroke-opacity="0.45"/></g><path d="M-48.8,16.5 L16.2,16.5 L16.2,32.5 L48.8,0 L16.2,-32.5" fill="none" stroke="#5b7fd0" stroke-width="0.9" stroke-opacity="0.55"/></g>
<g transform="translate(414.6,633.7) rotate(0)"><path d="M-48.8,-16.5 L16.2,-16.5 L16.2,-32.5 L48.8,0 L16.2,32.5 L16.2,16.5 L-48.8,16.5 L-34.5,0Z" fill="#6a90e3" fill-opacity="0.86"/><g clip-path="url(#cn)"><path d="M-48.8,-16.5 L16.2,-16.5 L16.2,-32.5 L48.8,0 L16.2,32.5 L16.2,16.5 L-48.8,16.5 L-34.5,0Z" fill="none" stroke="#86a8ec" stroke-width="6" stroke-opacity="0.75"/><path d="M-34.5,0 L-48.8,16.5 L16.2,16.5 L16.2,32.5 L48.8,0" fill="none" stroke="#aecaf8" stroke-width="5.2" stroke-opacity="0.78" stroke-linejoin="miter"/><path d="M16.2,-16.5 L16.2,-32.5 M-48.8,-16.5 L-34.5,0" fill="none" stroke="#587cd2" stroke-width="5" stroke-opacity="0.45"/></g><path d="M-48.8,16.5 L16.2,16.5 L16.2,32.5 L48.8,0 L16.2,-32.5" fill="none" stroke="#5b7fd0" stroke-width="0.9" stroke-opacity="0.55"/></g>
<g transform="translate(540.8,633.7) rotate(0)"><path d="M-48.8,-16.5 L16.2,-16.5 L16.2,-32.5 L48.8,0 L16.2,32.5 L16.2,16.5 L-48.8,16.5 L-34.5,0Z" fill="#6a90e3" fill-opacity="0.86"/><g clip-path="url(#cn)"><path d="M-48.8,-16.5 L16.2,-16.5 L16.2,-32.5 L48.8,0 L16.2,32.5 L16.2,16.5 L-48.8,16.5 L-34.5,0Z" fill="none" stroke="#86a8ec" stroke-width="6" stroke-opacity="0.75"/><path d="M-34.5,0 L-48.8,16.5 L16.2,16.5 L16.2,32.5 L48.8,0" fill="none" stroke="#aecaf8" stroke-width="5.2" stroke-opacity="0.78" stroke-linejoin="miter"/><path d="M16.2,-16.5 L16.2,-32.5 M-48.8,-16.5 L-34.5,0" fill="none" stroke="#587cd2" stroke-width="5" stroke-opacity="0.45"/></g><path d="M-48.8,16.5 L16.2,16.5 L16.2,32.5 L48.8,0 L16.2,-32.5" fill="none" stroke="#5b7fd0" stroke-width="0.9" stroke-opacity="0.55"/></g>
<g transform="translate(217.5,322) rotate(-73.6)"><path d="M-48.8,-16.5 L16.2,-16.5 L16.2,-32.5 L48.8,0 L16.2,32.5 L16.2,16.5 L-48.8,16.5 L-34.5,0Z" fill="#6a90e3" fill-opacity="0.86"/><g clip-path="url(#cn)"><path d="M-48.8,-16.5 L16.2,-16.5 L16.2,-32.5 L48.8,0 L16.2,32.5 L16.2,16.5 L-48.8,16.5 L-34.5,0Z" fill="none" stroke="#86a8ec" stroke-width="6" stroke-opacity="0.75"/><path d="M-34.5,0 L-48.8,16.5 L16.2,16.5 L16.2,32.5 L48.8,0" fill="none" stroke="#aecaf8" stroke-width="5.2" stroke-opacity="0.78" stroke-linejoin="miter"/><path d="M16.2,-16.5 L16.2,-32.5 M-48.8,-16.5 L-34.5,0" fill="none" stroke="#587cd2" stroke-width="5" stroke-opacity="0.45"/></g><path d="M-48.8,16.5 L16.2,16.5 L16.2,32.5 L48.8,0 L16.2,-32.5" fill="none" stroke="#5b7fd0" stroke-width="0.9" stroke-opacity="0.55"/></g>
<g transform="translate(245.8,431) rotate(-120.9)"><path d="M-48.8,-16.5 L16.2,-16.5 L16.2,-32.5 L48.8,0 L16.2,32.5 L16.2,16.5 L-48.8,16.5 L-34.5,0Z" fill="#6a90e3" fill-opacity="0.86"/><g clip-path="url(#cn)"><path d="M-48.8,-16.5 L16.2,-16.5 L16.2,-32.5 L48.8,0 L16.2,32.5 L16.2,16.5 L-48.8,16.5 L-34.5,0Z" fill="none" stroke="#86a8ec" stroke-width="6" stroke-opacity="0.75"/><path d="M-34.5,0 L-48.8,16.5 L16.2,16.5 L16.2,32.5 L48.8,0" fill="none" stroke="#aecaf8" stroke-width="5.2" stroke-opacity="0.78" stroke-linejoin="miter"/><path d="M16.2,-16.5 L16.2,-32.5 M-48.8,-16.5 L-34.5,0" fill="none" stroke="#587cd2" stroke-width="5" stroke-opacity="0.45"/></g><path d="M-48.8,16.5 L16.2,16.5 L16.2,32.5 L48.8,0 L16.2,-32.5" fill="none" stroke="#5b7fd0" stroke-width="0.9" stroke-opacity="0.55"/></g>
<g transform="translate(269.8,542) rotate(-75.3)"><path d="M-48.8,-16.5 L16.2,-16.5 L16.2,-32.5 L48.8,0 L16.2,32.5 L16.2,16.5 L-48.8,16.5 L-34.5,0Z" fill="#6a90e3" fill-opacity="0.86"/><g clip-path="url(#cn)"><path d="M-48.8,-16.5 L16.2,-16.5 L16.2,-32.5 L48.8,0 L16.2,32.5 L16.2,16.5 L-48.8,16.5 L-34.5,0Z" fill="none" stroke="#86a8ec" stroke-width="6" stroke-opacity="0.75"/><path d="M-34.5,0 L-48.8,16.5 L16.2,16.5 L16.2,32.5 L48.8,0" fill="none" stroke="#aecaf8" stroke-width="5.2" stroke-opacity="0.78" stroke-linejoin="miter"/><path d="M16.2,-16.5 L16.2,-32.5 M-48.8,-16.5 L-34.5,0" fill="none" stroke="#587cd2" stroke-width="5" stroke-opacity="0.45"/></g><path d="M-48.8,16.5 L16.2,16.5 L16.2,32.5 L48.8,0 L16.2,-32.5" fill="none" stroke="#5b7fd0" stroke-width="0.9" stroke-opacity="0.55"/></g>
<g transform="translate(393,157) rotate(103)"><path d="M-30.5,-22.3 L1.5,-22.3 L1.5,-42.5 L30.5,0 L1.5,42.5 L1.5,22.3 L-30.5,22.3Z" fill="#6f9fe6" fill-opacity="0.84"/><g clip-path="url(#cb)"><path d="M-30.5,-22.3 L1.5,-22.3 L1.5,-42.5 L30.5,0 L1.5,42.5 L1.5,22.3 L-30.5,22.3Z" fill="none" stroke="#86b2ee" stroke-width="6" stroke-opacity="0.7"/><path d="M-30.5,22.3 L-30.5,-22.3 L1.5,-22.3 L1.5,-42.5 M1.5,22.3 L1.5,42.5" fill="none" stroke="#acd0f6" stroke-width="5.6" stroke-opacity="0.7"/><path d="M1.5,-42.5 L30.5,0 L1.5,42.5" fill="none" stroke="#5a86d6" stroke-width="5" stroke-opacity="0.35"/></g><path d="M-30.5,-22.3 L1.5,-22.3 L1.5,-42.5 L30.5,0 L1.5,42.5 L1.5,22.3 L-30.5,22.3Z" fill="none" stroke="#5b86d2" stroke-width="0.8" stroke-opacity="0.45"/></g>
<g transform="translate(562.8,163) rotate(103)"><path d="M-30.5,-22.3 L1.5,-22.3 L1.5,-42.5 L30.5,0 L1.5,42.5 L1.5,22.3 L-30.5,22.3Z" fill="#6f9fe6" fill-opacity="0.84"/><g clip-path="url(#cb)"><path d="M-30.5,-22.3 L1.5,-22.3 L1.5,-42.5 L30.5,0 L1.5,42.5 L1.5,22.3 L-30.5,22.3Z" fill="none" stroke="#86b2ee" stroke-width="6" stroke-opacity="0.7"/><path d="M-30.5,22.3 L-30.5,-22.3 L1.5,-22.3 L1.5,-42.5 M1.5,22.3 L1.5,42.5" fill="none" stroke="#acd0f6" stroke-width="5.6" stroke-opacity="0.7"/><path d="M1.5,-42.5 L30.5,0 L1.5,42.5" fill="none" stroke="#5a86d6" stroke-width="5" stroke-opacity="0.35"/></g><path d="M-30.5,-22.3 L1.5,-22.3 L1.5,-42.5 L30.5,0 L1.5,42.5 L1.5,22.3 L-30.5,22.3Z" fill="none" stroke="#5b86d2" stroke-width="0.8" stroke-opacity="0.45"/></g>
<text x="214" y="680.5" font-size="25.5" font-weight="bold" font-style="italic" fill="#2f5597">SMC</text>
<text x="155" y="395.7" font-size="25.5" font-weight="bold" font-style="italic" fill="#2f5597">EICC</text>
<text x="451.5" y="163.3" font-size="25.5" font-weight="bold" font-style="italic" fill="#2f5597">BBR</text>
<g filter="url(#ds)" fill="#f90b10" font-weight="bold" font-size="33">
<text x="74.2" y="182.6">India</text>
<text x="382.7" y="105.6">Bay of Bengal</text>
<text x="92.8" y="545.8">Sri Lanka</text>
<text x="598.8" y="460.6">Andaman Sea</text>
</g>
<g filter="url(#ds)" font-weight="bold" font-size="29.3" fill="#000">
<text x="385.6" y="288.4">E87-30</text>
<text x="385.6" y="365.0">E87-28</text>
<text x="385.6" y="517.2">E87-24</text>
<text x="385.6" y="593.4">E87-22</text>
</g>
<circle cx="506.4" cy="278.2" r="12.1" fill="#d9dff6" stroke="#0b3573" stroke-width="0.9"/><circle cx="506.4" cy="278.2" r="8.9" fill="#040408"/>
<circle cx="506.4" cy="354.8" r="12.1" fill="#d9dff6" stroke="#0b3573" stroke-width="0.9"/><circle cx="506.4" cy="354.8" r="8.9" fill="#040408"/>
<circle cx="506.4" cy="507.0" r="12.1" fill="#d9dff6" stroke="#0b3573" stroke-width="0.9"/><circle cx="506.4" cy="507.0" r="8.9" fill="#040408"/>
<circle cx="506.4" cy="583.2" r="12.1" fill="#d9dff6" stroke="#0b3573" stroke-width="0.9"/><circle cx="506.4" cy="583.2" r="8.9" fill="#040408"/>
<text transform="translate(896.5,808) rotate(-90)" font-size="10.8" font-weight="bold" font-style="italic" fill="#000">Ocean Data View</text>
<rect x="901.3" y="49.50" width="25.0" height="45.17" fill="#f0eecb"/>
<rect x="901.3" y="94.37" width="25.0" height="45.17" fill="#dcddae"/>
<rect x="901.3" y="139.24" width="25.0" height="45.17" fill="#c4dca3"/>
<rect x="901.3" y="184.11" width="25.0" height="45.17" fill="#b2dea6"/>
<rect x="901.3" y="228.98" width="25.0" height="45.17" fill="#a2e8ae"/>
<rect x="901.3" y="273.85" width="25.0" height="45.17" fill="#98efb8"/>
<rect x="901.3" y="318.72" width="25.0" height="45.17" fill="#90efc6"/>
<rect x="901.3" y="363.59" width="25.0" height="45.17" fill="#8aebd6"/>
<rect x="901.3" y="408.46" width="25.0" height="45.17" fill="#8adde5"/>
<rect x="901.3" y="453.34" width="25.0" height="45.17" fill="#88ceea"/>
<rect x="901.3" y="498.21" width="25.0" height="45.17" fill="#8bbcf4"/>
<rect x="901.3" y="543.08" width="25.0" height="45.17" fill="#8cb0f9"/>
<rect x="901.3" y="587.95" width="25.0" height="45.17" fill="#91a7f8"/>
<rect x="901.3" y="632.82" width="25.0" height="45.17" fill="#96a0f8"/>
<rect x="901.3" y="677.69" width="25.0" height="45.17" fill="#9c9cf5"/>
<rect x="901.3" y="722.56" width="25.0" height="45.17" fill="#a69cf1"/>
<rect x="901.3" y="767.43" width="25.0" height="45.17" fill="#b39fee"/>
<rect x="901.3" y="49.5" width="25.0" height="762.8" fill="none" stroke="#80808c" stroke-width="0.6"/>
<line x1="901.3" x2="926.9" y1="94.37" y2="94.37" stroke="#1e2a46" stroke-width="0.7" stroke-opacity="0.6"/>
<text x="934" y="97.5" font-size="12" font-weight="bold" font-style="italic">50 m</text>
<line x1="901.3" x2="926.9" y1="139.24" y2="139.24" stroke="#1e2a46" stroke-width="0.7" stroke-opacity="0.6"/>
<text x="934" y="142.3" font-size="12" font-weight="bold" font-style="italic">100 m</text>
<line x1="901.3" x2="926.9" y1="184.11" y2="184.11" stroke="#1e2a46" stroke-width="0.7" stroke-opacity="0.6"/>
<text x="934" y="187.2" font-size="12" font-weight="bold" font-style="italic">250 m</text>
<line x1="901.3" x2="926.9" y1="228.98" y2="228.98" stroke="#1e2a46" stroke-width="0.7" stroke-opacity="0.6"/>
<text x="934" y="232.1" font-size="12" font-weight="bold" font-style="italic">500 m</text>
<line x1="901.3" x2="926.9" y1="273.85" y2="273.85" stroke="#1e2a46" stroke-width="0.7" stroke-opacity="0.6"/>
<text x="934" y="277.0" font-size="12" font-weight="bold" font-style="italic">750 m</text>
<line x1="901.3" x2="926.9" y1="318.72" y2="318.72" stroke="#1e2a46" stroke-width="0.7" stroke-opacity="0.6"/>
<text x="934" y="321.8" font-size="12" font-weight="bold" font-style="italic">1000 m</text>
<line x1="901.3" x2="926.9" y1="363.59" y2="363.59" stroke="#1e2a46" stroke-width="0.7" stroke-opacity="0.6"/>
<text x="934" y="366.7" font-size="12" font-weight="bold" font-style="italic">1250 m</text>
<line x1="901.3" x2="926.9" y1="408.46" y2="408.46" stroke="#1e2a46" stroke-width="0.7" stroke-opacity="0.6"/>
<text x="934" y="411.6" font-size="12" font-weight="bold" font-style="italic">1500 m</text>
<line x1="901.3" x2="926.9" y1="453.34" y2="453.34" stroke="#1e2a46" stroke-width="0.7" stroke-opacity="0.6"/>
<text x="934" y="456.4" font-size="12" font-weight="bold" font-style="italic">2000 m</text>
<line x1="901.3" x2="926.9" y1="498.21" y2="498.21" stroke="#1e2a46" stroke-width="0.7" stroke-opacity="0.6"/>
<text x="934" y="501.3" font-size="12" font-weight="bold" font-style="italic">2500 m</text>
<line x1="901.3" x2="926.9" y1="543.08" y2="543.08" stroke="#1e2a46" stroke-width="0.7" stroke-opacity="0.6"/>
<text x="934" y="546.2" font-size="12" font-weight="bold" font-style="italic">3000 m</text>
<line x1="901.3" x2="926.9" y1="587.95" y2="587.95" stroke="#1e2a46" stroke-width="0.7" stroke-opacity="0.6"/>
<text x="934" y="591.0" font-size="12" font-weight="bold" font-style="italic">3500 m</text>
<line x1="901.3" x2="926.9" y1="632.82" y2="632.82" stroke="#1e2a46" stroke-width="0.7" stroke-opacity="0.6"/>
<text x="934" y="635.9" font-size="12" font-weight="bold" font-style="italic">4000 m</text>
<line x1="901.3" x2="926.9" y1="677.69" y2="677.69" stroke="#1e2a46" stroke-width="0.7" stroke-opacity="0.6"/>
<text x="934" y="680.8" font-size="12" font-weight="bold" font-style="italic">4500 m</text>
<line x1="901.3" x2="926.9" y1="722.56" y2="722.56" stroke="#1e2a46" stroke-width="0.7" stroke-opacity="0.6"/>
<text x="934" y="725.7" font-size="12" font-weight="bold" font-style="italic">5000 m</text>
<line x1="901.3" x2="926.9" y1="767.43" y2="767.43" stroke="#1e2a46" stroke-width="0.7" stroke-opacity="0.6"/>
<text x="934" y="770.5" font-size="12" font-weight="bold" font-style="italic">5500 m</text>
<text x="10.4" y="28.4" font-size="34.6" font-weight="bold" fill="#4d4d4d" stroke="#4d4d4d" stroke-width="1.1" textLength="26.2" lengthAdjust="spacingAndGlyphs">A</text>
<text x="990.6" y="28.2" font-size="35.6" font-weight="bold" fill="#4d4d4d" stroke="#4d4d4d" stroke-width="1.9" textLength="18.8" lengthAdjust="spacingAndGlyphs">B</text>
<g>
<path d="M1294.4,72.2 L1277.5,157.0 L1086.3,241.9" fill="none" stroke="#ee5253" stroke-width="1.4"/>
<circle cx="1294.4" cy="72.2" r="6.6" fill="#ee5253"/>
<circle cx="1277.5" cy="157.0" r="6.6" fill="#ee5253"/>
<circle cx="1086.3" cy="241.9" r="6.6" fill="#ee5253"/>
<path d="M1292.5,72.2 L1260.5,157.0 L1085.6,241.9" fill="none" stroke="#5c9fd6" stroke-width="1.4"/>
<circle cx="1292.5" cy="72.2" r="6.6" fill="#5c9fd6"/>
<circle cx="1260.5" cy="157.0" r="6.6" fill="#5c9fd6"/>
<circle cx="1085.6" cy="241.9" r="6.6" fill="#5c9fd6"/>
<path d="M1295.5,72.2 L1266.9,157.0 L1084.8,241.9" fill="none" stroke="#80c97f" stroke-width="1.4"/>
<circle cx="1295.5" cy="72.2" r="6.6" fill="#80c97f"/>
<circle cx="1266.9" cy="157.0" r="6.6" fill="#80c97f"/>
<circle cx="1084.8" cy="241.9" r="6.6" fill="#80c97f"/>
<path d="M1292.5,72.2 L1271.5,157.0 L1083.7,241.9" fill="none" stroke="#b57fd0" stroke-width="1.4"/>
<circle cx="1292.5" cy="72.2" r="6.6" fill="#b57fd0"/>
<circle cx="1271.5" cy="157.0" r="6.6" fill="#b57fd0"/>
<circle cx="1083.7" cy="241.9" r="6.6" fill="#b57fd0"/>
<rect x="1065.0" y="50.1" width="263.0" height="212.9" fill="none" stroke="#000" stroke-width="1.9"/>
<line x1="1064.5" x2="1064.5" y1="263.9" y2="267.1" stroke="#000" stroke-width="1.9"/>
<text x="1064.5" y="284.6" font-size="17.6" font-weight="bold" text-anchor="middle">0</text>
<line x1="1117.2" x2="1117.2" y1="263.9" y2="267.1" stroke="#000" stroke-width="1.9"/>
<text x="1117.2" y="284.6" font-size="17.6" font-weight="bold" text-anchor="middle">7</text>
<line x1="1169.9" x2="1169.9" y1="263.9" y2="267.1" stroke="#000" stroke-width="1.9"/>
<text x="1169.9" y="284.6" font-size="17.6" font-weight="bold" text-anchor="middle">14</text>
<line x1="1222.5" x2="1222.5" y1="263.9" y2="267.1" stroke="#000" stroke-width="1.9"/>
<text x="1222.5" y="284.6" font-size="17.6" font-weight="bold" text-anchor="middle">21</text>
<line x1="1275.2" x2="1275.2" y1="263.9" y2="267.1" stroke="#000" stroke-width="1.9"/>
<text x="1275.2" y="284.6" font-size="17.6" font-weight="bold" text-anchor="middle">28</text>
<line x1="1327.9" x2="1327.9" y1="263.9" y2="267.1" stroke="#000" stroke-width="1.9"/>
<text x="1327.9" y="284.6" font-size="17.6" font-weight="bold" text-anchor="middle">35</text>
<line x1="1060.9" x2="1064.1" y1="72.2" y2="72.2" stroke="#000" stroke-width="1.9"/>
<text x="1056.6" y="78.4" font-size="17.7" font-weight="bold" text-anchor="end">Surface</text>
<line x1="1060.9" x2="1064.1" y1="157.0" y2="157.0" stroke="#000" stroke-width="1.9"/>
<text x="1056.6" y="163.2" font-size="17.7" font-weight="bold" text-anchor="end">DCM</text>
<line x1="1060.9" x2="1064.1" y1="241.9" y2="241.9" stroke="#000" stroke-width="1.9"/>
<text x="1056.6" y="248.1" font-size="17.7" font-weight="bold" text-anchor="end">Deep</text>
<text x="1196.5" y="39.6" font-size="17.9" font-weight="bold" text-anchor="middle">Temperature (<tspan dy="-6.3" font-size="12">o</tspan><tspan dy="6.3">C)</tspan></text>
</g>
<g>
<path d="M1529.8,72.2 L1598.8,157.0 L1561.2,241.9" fill="none" stroke="#ee5253" stroke-width="1.4"/>
<circle cx="1529.8" cy="72.2" r="6.6" fill="#ee5253"/>
<circle cx="1598.8" cy="157.0" r="6.6" fill="#ee5253"/>
<circle cx="1561.2" cy="241.9" r="6.6" fill="#ee5253"/>
<path d="M1377.7,72.2 L1506.6,157.0 L1560.3,241.9" fill="none" stroke="#5c9fd6" stroke-width="1.4"/>
<circle cx="1377.7" cy="72.2" r="6.6" fill="#5c9fd6"/>
<circle cx="1506.6" cy="157.0" r="6.6" fill="#5c9fd6"/>
<circle cx="1560.3" cy="241.9" r="6.6" fill="#5c9fd6"/>
<path d="M1444.0,72.2 L1502.9,157.0 L1559.3,241.9" fill="none" stroke="#80c97f" stroke-width="1.4"/>
<circle cx="1444.0" cy="72.2" r="6.6" fill="#80c97f"/>
<circle cx="1502.9" cy="157.0" r="6.6" fill="#80c97f"/>
<circle cx="1559.3" cy="241.9" r="6.6" fill="#80c97f"/>
<path d="M1370.8,72.2 L1484.0,157.0 L1561.7,241.9" fill="none" stroke="#b57fd0" stroke-width="1.4"/>
<circle cx="1370.8" cy="72.2" r="6.6" fill="#b57fd0"/>
<circle cx="1484.0" cy="157.0" r="6.6" fill="#b57fd0"/>
<circle cx="1561.7" cy="241.9" r="6.6" fill="#b57fd0"/>
<rect x="1356.1" y="50.1" width="264.1" height="212.9" fill="none" stroke="#000" stroke-width="1.9"/>
<line x1="1393.7" x2="1393.7" y1="263.9" y2="267.1" stroke="#000" stroke-width="1.9"/>
<text x="1393.7" y="284.6" font-size="17.6" font-weight="bold" text-anchor="middle">33.0</text>
<line x1="1440.8" x2="1440.8" y1="263.9" y2="267.1" stroke="#000" stroke-width="1.9"/>
<text x="1440.8" y="284.6" font-size="17.6" font-weight="bold" text-anchor="middle">33.5</text>
<line x1="1487.8" x2="1487.8" y1="263.9" y2="267.1" stroke="#000" stroke-width="1.9"/>
<text x="1487.8" y="284.6" font-size="17.6" font-weight="bold" text-anchor="middle">34.0</text>
<line x1="1534.9" x2="1534.9" y1="263.9" y2="267.1" stroke="#000" stroke-width="1.9"/>
<text x="1534.9" y="284.6" font-size="17.6" font-weight="bold" text-anchor="middle">34.5</text>
<line x1="1581.9" x2="1581.9" y1="263.9" y2="267.1" stroke="#000" stroke-width="1.9"/>
<text x="1581.9" y="284.6" font-size="17.6" font-weight="bold" text-anchor="middle">35.0</text>
<line x1="1352.0" x2="1355.2" y1="72.2" y2="72.2" stroke="#000" stroke-width="1.9"/>
<line x1="1352.0" x2="1355.2" y1="157.0" y2="157.0" stroke="#000" stroke-width="1.9"/>
<line x1="1352.0" x2="1355.2" y1="241.9" y2="241.9" stroke="#000" stroke-width="1.9"/>
<text x="1488.2" y="39.6" font-size="17.9" font-weight="bold" text-anchor="middle">Salinity</text>
</g>
<g>
<path d="M1661.7,72.2 L1665.3,157.0 L1796.6,241.9" fill="none" stroke="#ee5253" stroke-width="1.4"/>
<circle cx="1661.7" cy="72.2" r="6.6" fill="#ee5253"/>
<circle cx="1665.3" cy="157.0" r="6.6" fill="#ee5253"/>
<circle cx="1796.6" cy="241.9" r="6.6" fill="#ee5253"/>
<path d="M1662.6,72.2 L1674.9,157.0 L1895.3,241.9" fill="none" stroke="#5c9fd6" stroke-width="1.4"/>
<circle cx="1662.6" cy="72.2" r="6.6" fill="#5c9fd6"/>
<circle cx="1674.9" cy="157.0" r="6.6" fill="#5c9fd6"/>
<circle cx="1895.3" cy="241.9" r="6.6" fill="#5c9fd6"/>
<path d="M1661.4,72.2 L1661.2,157.0 L1831.8,241.9" fill="none" stroke="#80c97f" stroke-width="1.4"/>
<circle cx="1661.4" cy="72.2" r="6.6" fill="#80c97f"/>
<circle cx="1661.2" cy="157.0" r="6.6" fill="#80c97f"/>
<circle cx="1831.8" cy="241.9" r="6.6" fill="#80c97f"/>
<path d="M1661.7,72.2 L1662.5,157.0 L1763.0,241.9" fill="none" stroke="#b57fd0" stroke-width="1.4"/>
<circle cx="1661.7" cy="72.2" r="6.6" fill="#b57fd0"/>
<circle cx="1662.5" cy="157.0" r="6.6" fill="#b57fd0"/>
<circle cx="1763.0" cy="241.9" r="6.6" fill="#b57fd0"/>
<rect x="1645.4" y="50.1" width="262.7" height="212.9" fill="none" stroke="#000" stroke-width="1.9"/>
<line x1="1659.4" x2="1659.4" y1="263.9" y2="267.1" stroke="#000" stroke-width="1.9"/>
<text x="1659.4" y="284.6" font-size="17.6" font-weight="bold" text-anchor="middle">0</text>
<line x1="1717.9" x2="1717.9" y1="263.9" y2="267.1" stroke="#000" stroke-width="1.9"/>
<text x="1717.9" y="284.6" font-size="17.6" font-weight="bold" text-anchor="middle">20</text>
<line x1="1776.5" x2="1776.5" y1="263.9" y2="267.1" stroke="#000" stroke-width="1.9"/>
<text x="1776.5" y="284.6" font-size="17.6" font-weight="bold" text-anchor="middle">40</text>
<line x1="1835.0" x2="1835.0" y1="263.9" y2="267.1" stroke="#000" stroke-width="1.9"/>
<text x="1835.0" y="284.6" font-size="17.6" font-weight="bold" text-anchor="middle">60</text>
<line x1="1893.5" x2="1893.5" y1="263.9" y2="267.1" stroke="#000" stroke-width="1.9"/>
<text x="1893.5" y="284.6" font-size="17.6" font-weight="bold" text-anchor="middle">80</text>
<line x1="1641.3" x2="1644.5" y1="72.2" y2="72.2" stroke="#000" stroke-width="1.9"/>
<line x1="1641.3" x2="1644.5" y1="157.0" y2="157.0" stroke="#000" stroke-width="1.9"/>
<line x1="1641.3" x2="1644.5" y1="241.9" y2="241.9" stroke="#000" stroke-width="1.9"/>
<text x="1776.8" y="39.6" font-size="17.9" font-weight="bold" text-anchor="middle">DSi (µmol L<tspan dy="-7.8" dx="0.9" font-size="10.8">-1</tspan><tspan dy="7.8" dx="0.5">)</tspan></text>
</g>
<g>
<path d="M1199.3,347.2 L1116.8,432.0 L1276.1,516.9" fill="none" stroke="#ee5253" stroke-width="1.4"/>
<circle cx="1199.3" cy="347.2" r="6.6" fill="#ee5253"/>
<circle cx="1116.8" cy="432.0" r="6.6" fill="#ee5253"/>
<circle cx="1276.1" cy="516.9" r="6.6" fill="#ee5253"/>
<path d="M1189.3,347.2 L1141.9,432.0 L1307.4,516.9" fill="none" stroke="#5c9fd6" stroke-width="1.4"/>
<circle cx="1189.3" cy="347.2" r="6.6" fill="#5c9fd6"/>
<circle cx="1141.9" cy="432.0" r="6.6" fill="#5c9fd6"/>
<circle cx="1307.4" cy="516.9" r="6.6" fill="#5c9fd6"/>
<path d="M1142.7,347.2 L1149.6,432.0 L1278.8,516.9" fill="none" stroke="#80c97f" stroke-width="1.4"/>
<circle cx="1142.7" cy="347.2" r="6.6" fill="#80c97f"/>
<circle cx="1149.6" cy="432.0" r="6.6" fill="#80c97f"/>
<circle cx="1278.8" cy="516.9" r="6.6" fill="#80c97f"/>
<path d="M1096.8,347.2 L1156.0,432.0 L1290.5,516.9" fill="none" stroke="#b57fd0" stroke-width="1.4"/>
<circle cx="1096.8" cy="347.2" r="6.6" fill="#b57fd0"/>
<circle cx="1156.0" cy="432.0" r="6.6" fill="#b57fd0"/>
<circle cx="1290.5" cy="516.9" r="6.6" fill="#b57fd0"/>
<rect x="1064.9" y="326.0" width="263.1" height="211.9" fill="none" stroke="#000" stroke-width="1.9"/>
<line x1="1094.0" x2="1094.0" y1="538.8" y2="542.0" stroke="#000" stroke-width="1.9"/>
<text x="1094.0" y="559.5" font-size="17.6" font-weight="bold" text-anchor="middle">0.0</text>
<line x1="1152.5" x2="1152.5" y1="538.8" y2="542.0" stroke="#000" stroke-width="1.9"/>
<text x="1152.5" y="559.5" font-size="17.6" font-weight="bold" text-anchor="middle">0.5</text>
<line x1="1211.0" x2="1211.0" y1="538.8" y2="542.0" stroke="#000" stroke-width="1.9"/>
<text x="1211.0" y="559.5" font-size="17.6" font-weight="bold" text-anchor="middle">1.0</text>
<line x1="1269.4" x2="1269.4" y1="538.8" y2="542.0" stroke="#000" stroke-width="1.9"/>
<text x="1269.4" y="559.5" font-size="17.6" font-weight="bold" text-anchor="middle">1.5</text>
<line x1="1327.9" x2="1327.9" y1="538.8" y2="542.0" stroke="#000" stroke-width="1.9"/>
<text x="1327.9" y="559.5" font-size="17.6" font-weight="bold" text-anchor="middle">2.0</text>
<line x1="1060.8" x2="1064.0" y1="347.2" y2="347.2" stroke="#000" stroke-width="1.9"/>
<text x="1056.5" y="353.4" font-size="17.7" font-weight="bold" text-anchor="end">Surface</text>
<line x1="1060.8" x2="1064.0" y1="432.0" y2="432.0" stroke="#000" stroke-width="1.9"/>
<text x="1056.5" y="438.2" font-size="17.7" font-weight="bold" text-anchor="end">DCM</text>
<line x1="1060.8" x2="1064.0" y1="516.9" y2="516.9" stroke="#000" stroke-width="1.9"/>
<text x="1056.5" y="523.1" font-size="17.7" font-weight="bold" text-anchor="end">Deep</text>
<text x="1196.5" y="314.8" font-size="17.9" font-weight="bold" text-anchor="middle">DIP (µmol L<tspan dy="-7.8" dx="0.9" font-size="10.8">-1</tspan><tspan dy="7.8" dx="0.5">)</tspan></text>
</g>
<g>
<path d="M1449.1,347.2 L1495.3,432.0 L1456.9,516.9" fill="none" stroke="#ee5253" stroke-width="1.4"/>
<circle cx="1449.1" cy="347.2" r="6.6" fill="#ee5253"/>
<circle cx="1495.3" cy="432.0" r="6.6" fill="#ee5253"/>
<circle cx="1456.9" cy="516.9" r="6.6" fill="#ee5253"/>
<path d="M1510.5,347.2 L1444.3,432.0 L1588.5,516.9" fill="none" stroke="#5c9fd6" stroke-width="1.4"/>
<circle cx="1510.5" cy="347.2" r="6.6" fill="#5c9fd6"/>
<circle cx="1444.3" cy="432.0" r="6.6" fill="#5c9fd6"/>
<circle cx="1588.5" cy="516.9" r="6.6" fill="#5c9fd6"/>
<path d="M1383.3,347.2 L1458.5,432.0 L1420.7,516.9" fill="none" stroke="#80c97f" stroke-width="1.4"/>
<circle cx="1383.3" cy="347.2" r="6.6" fill="#80c97f"/>
<circle cx="1458.5" cy="432.0" r="6.6" fill="#80c97f"/>
<circle cx="1420.7" cy="516.9" r="6.6" fill="#80c97f"/>
<path d="M1416.6,347.2 L1443.5,432.0 L1478.0,516.9" fill="none" stroke="#b57fd0" stroke-width="1.4"/>
<circle cx="1416.6" cy="347.2" r="6.6" fill="#b57fd0"/>
<circle cx="1443.5" cy="432.0" r="6.6" fill="#b57fd0"/>
<circle cx="1478.0" cy="516.9" r="6.6" fill="#b57fd0"/>
<rect x="1356.2" y="326.0" width="263.4" height="211.9" fill="none" stroke="#000" stroke-width="1.9"/>
<line x1="1375.6" x2="1375.6" y1="538.8" y2="542.0" stroke="#000" stroke-width="1.9"/>
<text x="1375.6" y="559.5" font-size="17.6" font-weight="bold" text-anchor="middle">0</text>
<line x1="1456.9" x2="1456.9" y1="538.8" y2="542.0" stroke="#000" stroke-width="1.9"/>
<text x="1456.9" y="559.5" font-size="17.6" font-weight="bold" text-anchor="middle">2</text>
<line x1="1538.1" x2="1538.1" y1="538.8" y2="542.0" stroke="#000" stroke-width="1.9"/>
<text x="1538.1" y="559.5" font-size="17.6" font-weight="bold" text-anchor="middle">4</text>
<line x1="1619.4" x2="1619.4" y1="538.8" y2="542.0" stroke="#000" stroke-width="1.9"/>
<text x="1619.4" y="559.5" font-size="17.6" font-weight="bold" text-anchor="middle">6</text>
<line x1="1352.1" x2="1355.3" y1="347.2" y2="347.2" stroke="#000" stroke-width="1.9"/>
<line x1="1352.1" x2="1355.3" y1="432.0" y2="432.0" stroke="#000" stroke-width="1.9"/>
<line x1="1352.1" x2="1355.3" y1="516.9" y2="516.9" stroke="#000" stroke-width="1.9"/>
<text x="1487.9" y="312.5" font-size="17.9" font-weight="bold" text-anchor="middle">NH<tspan dy="5.2" font-size="10.8">4</tspan><tspan dy="-5.2">-N (µmol L</tspan><tspan dy="-7.8" dx="0.9" font-size="10.8">-1</tspan><tspan dy="7.8" dx="0.5">)</tspan></text>
</g>
<g>
<path d="M1771.2,347.2 L1880.2,432.0 L1758.7,516.9" fill="none" stroke="#ee5253" stroke-width="1.4"/>
<circle cx="1771.2" cy="347.2" r="6.6" fill="#ee5253"/>
<circle cx="1880.2" cy="432.0" r="6.6" fill="#ee5253"/>
<circle cx="1758.7" cy="516.9" r="6.6" fill="#ee5253"/>
<path d="M1708.9,347.2 L1842.8,432.0 L1804.9,516.9" fill="none" stroke="#5c9fd6" stroke-width="1.4"/>
<circle cx="1708.9" cy="347.2" r="6.6" fill="#5c9fd6"/>
<circle cx="1842.8" cy="432.0" r="6.6" fill="#5c9fd6"/>
<circle cx="1804.9" cy="516.9" r="6.6" fill="#5c9fd6"/>
<path d="M1667.4,347.2 L1746.5,432.0 L1691.9,516.9" fill="none" stroke="#80c97f" stroke-width="1.4"/>
<circle cx="1667.4" cy="347.2" r="6.6" fill="#80c97f"/>
<circle cx="1746.5" cy="432.0" r="6.6" fill="#80c97f"/>
<circle cx="1691.9" cy="516.9" r="6.6" fill="#80c97f"/>
<path d="M1704.9,347.2 L1779.8,432.0 L1733.6,516.9" fill="none" stroke="#b57fd0" stroke-width="1.4"/>
<circle cx="1704.9" cy="347.2" r="6.6" fill="#b57fd0"/>
<circle cx="1779.8" cy="432.0" r="6.6" fill="#b57fd0"/>
<circle cx="1733.6" cy="516.9" r="6.6" fill="#b57fd0"/>
<rect x="1646.6" y="326.0" width="263.2" height="211.9" fill="none" stroke="#000" stroke-width="1.9"/>
<line x1="1646.6" x2="1646.6" y1="538.8" y2="542.0" stroke="#000" stroke-width="1.9"/>
<text x="1646.6" y="559.5" font-size="17.6" font-weight="bold" text-anchor="middle">0.0</text>
<line x1="1705.0" x2="1705.0" y1="538.8" y2="542.0" stroke="#000" stroke-width="1.9"/>
<text x="1705.0" y="559.5" font-size="17.6" font-weight="bold" text-anchor="middle">0.1</text>
<line x1="1763.4" x2="1763.4" y1="538.8" y2="542.0" stroke="#000" stroke-width="1.9"/>
<text x="1763.4" y="559.5" font-size="17.6" font-weight="bold" text-anchor="middle">0.2</text>
<line x1="1821.8" x2="1821.8" y1="538.8" y2="542.0" stroke="#000" stroke-width="1.9"/>
<text x="1821.8" y="559.5" font-size="17.6" font-weight="bold" text-anchor="middle">0.3</text>
<line x1="1880.2" x2="1880.2" y1="538.8" y2="542.0" stroke="#000" stroke-width="1.9"/>
<text x="1880.2" y="559.5" font-size="17.6" font-weight="bold" text-anchor="middle">0.4</text>
<line x1="1642.5" x2="1645.7" y1="347.2" y2="347.2" stroke="#000" stroke-width="1.9"/>
<line x1="1642.5" x2="1645.7" y1="432.0" y2="432.0" stroke="#000" stroke-width="1.9"/>
<line x1="1642.5" x2="1645.7" y1="516.9" y2="516.9" stroke="#000" stroke-width="1.9"/>
<text x="1778.2" y="312.5" font-size="17.9" font-weight="bold" text-anchor="middle">NO<tspan dy="5.2" font-size="10.8">2</tspan><tspan dy="-5.2">-N (µmol L</tspan><tspan dy="-7.8" dx="0.9" font-size="10.8">-1</tspan><tspan dy="7.8" dx="0.5">)</tspan></text>
</g>
<g>
<path d="M1099.2,623.2 L1106.3,708.1 L1225.0,793.1" fill="none" stroke="#ee5253" stroke-width="1.4"/>
<circle cx="1099.2" cy="623.2" r="6.6" fill="#ee5253"/>
<circle cx="1106.3" cy="708.1" r="6.6" fill="#ee5253"/>
<circle cx="1225.0" cy="793.1" r="6.6" fill="#ee5253"/>
<path d="M1091.3,623.2 L1135.9,708.1 L1299.9,793.1" fill="none" stroke="#5c9fd6" stroke-width="1.4"/>
<circle cx="1091.3" cy="623.2" r="6.6" fill="#5c9fd6"/>
<circle cx="1135.9" cy="708.1" r="6.6" fill="#5c9fd6"/>
<circle cx="1299.9" cy="793.1" r="6.6" fill="#5c9fd6"/>
<path d="M1086.9,623.2 L1092.0,708.1 L1213.1,793.1" fill="none" stroke="#80c97f" stroke-width="1.4"/>
<circle cx="1086.9" cy="623.2" r="6.6" fill="#80c97f"/>
<circle cx="1092.0" cy="708.1" r="6.6" fill="#80c97f"/>
<circle cx="1213.1" cy="793.1" r="6.6" fill="#80c97f"/>
<path d="M1095.4,623.2 L1094.1,708.1 L1157.1,793.1" fill="none" stroke="#b57fd0" stroke-width="1.4"/>
<circle cx="1095.4" cy="623.2" r="6.6" fill="#b57fd0"/>
<circle cx="1094.1" cy="708.1" r="6.6" fill="#b57fd0"/>
<circle cx="1157.1" cy="793.1" r="6.6" fill="#b57fd0"/>
<rect x="1065.2" y="602.0" width="263.2" height="212.2" fill="none" stroke="#000" stroke-width="1.9"/>
<line x1="1083.8" x2="1083.8" y1="815.1" y2="818.3" stroke="#000" stroke-width="1.9"/>
<text x="1083.8" y="835.8" font-size="17.6" font-weight="bold" text-anchor="middle">0</text>
<line x1="1128.8" x2="1128.8" y1="815.1" y2="818.3" stroke="#000" stroke-width="1.9"/>
<text x="1128.8" y="835.8" font-size="17.6" font-weight="bold" text-anchor="middle">7</text>
<line x1="1173.8" x2="1173.8" y1="815.1" y2="818.3" stroke="#000" stroke-width="1.9"/>
<text x="1173.8" y="835.8" font-size="17.6" font-weight="bold" text-anchor="middle">14</text>
<line x1="1218.9" x2="1218.9" y1="815.1" y2="818.3" stroke="#000" stroke-width="1.9"/>
<text x="1218.9" y="835.8" font-size="17.6" font-weight="bold" text-anchor="middle">21</text>
<line x1="1263.9" x2="1263.9" y1="815.1" y2="818.3" stroke="#000" stroke-width="1.9"/>
<text x="1263.9" y="835.8" font-size="17.6" font-weight="bold" text-anchor="middle">28</text>
<line x1="1308.9" x2="1308.9" y1="815.1" y2="818.3" stroke="#000" stroke-width="1.9"/>
<text x="1308.9" y="835.8" font-size="17.6" font-weight="bold" text-anchor="middle">35</text>
<line x1="1061.1" x2="1064.3" y1="623.2" y2="623.2" stroke="#000" stroke-width="1.9"/>
<text x="1056.8" y="629.4" font-size="17.7" font-weight="bold" text-anchor="end">Surface</text>
<line x1="1061.1" x2="1064.3" y1="708.1" y2="708.1" stroke="#000" stroke-width="1.9"/>
<text x="1056.8" y="714.3" font-size="17.7" font-weight="bold" text-anchor="end">DCM</text>
<line x1="1061.1" x2="1064.3" y1="793.1" y2="793.1" stroke="#000" stroke-width="1.9"/>
<text x="1056.8" y="799.3" font-size="17.7" font-weight="bold" text-anchor="end">Deep</text>
<text x="1196.8" y="587.5" font-size="17.9" font-weight="bold" text-anchor="middle">NO<tspan dy="5.2" font-size="10.8">3</tspan><tspan dy="-5.2">-N (µmol L</tspan><tspan dy="-7.8" dx="0.9" font-size="10.8">-1</tspan><tspan dy="7.8" dx="0.5">)</tspan></text>
</g>
<g>
<path d="M1597.6,623.2 L1518.1,708.1 L1391.1,793.1" fill="none" stroke="#ee5253" stroke-width="1.4"/>
<circle cx="1597.6" cy="623.2" r="6.6" fill="#ee5253"/>
<circle cx="1518.1" cy="708.1" r="6.6" fill="#ee5253"/>
<circle cx="1391.1" cy="793.1" r="6.6" fill="#ee5253"/>
<path d="M1601.8,623.2 L1536.6,708.1 L1399.7,793.1" fill="none" stroke="#5c9fd6" stroke-width="1.4"/>
<circle cx="1601.8" cy="623.2" r="6.6" fill="#5c9fd6"/>
<circle cx="1536.6" cy="708.1" r="6.6" fill="#5c9fd6"/>
<circle cx="1399.7" cy="793.1" r="6.6" fill="#5c9fd6"/>
<path d="M1576.1,623.2 L1493.8,708.1 L1397.2,793.1" fill="none" stroke="#80c97f" stroke-width="1.4"/>
<circle cx="1576.1" cy="623.2" r="6.6" fill="#80c97f"/>
<circle cx="1493.8" cy="708.1" r="6.6" fill="#80c97f"/>
<circle cx="1397.2" cy="793.1" r="6.6" fill="#80c97f"/>
<path d="M1569.5,623.2 L1474.9,708.1 L1402.1,793.1" fill="none" stroke="#b57fd0" stroke-width="1.4"/>
<circle cx="1569.5" cy="623.2" r="6.6" fill="#b57fd0"/>
<circle cx="1474.9" cy="708.1" r="6.6" fill="#b57fd0"/>
<circle cx="1402.1" cy="793.1" r="6.6" fill="#b57fd0"/>
<rect x="1356.8" y="602.0" width="263.5" height="212.2" fill="none" stroke="#000" stroke-width="1.9"/>
<line x1="1356.8" x2="1356.8" y1="815.1" y2="818.3" stroke="#000" stroke-width="1.9"/>
<text x="1356.8" y="835.8" font-size="17.6" font-weight="bold" text-anchor="middle">0.0</text>
<line x1="1422.7" x2="1422.7" y1="815.1" y2="818.3" stroke="#000" stroke-width="1.9"/>
<text x="1422.7" y="835.8" font-size="17.6" font-weight="bold" text-anchor="middle">0.3</text>
<line x1="1488.7" x2="1488.7" y1="815.1" y2="818.3" stroke="#000" stroke-width="1.9"/>
<text x="1488.7" y="835.8" font-size="17.6" font-weight="bold" text-anchor="middle">0.6</text>
<line x1="1554.6" x2="1554.6" y1="815.1" y2="818.3" stroke="#000" stroke-width="1.9"/>
<text x="1554.6" y="835.8" font-size="17.6" font-weight="bold" text-anchor="middle">0.9</text>
<line x1="1620.5" x2="1620.5" y1="815.1" y2="818.3" stroke="#000" stroke-width="1.9"/>
<text x="1620.5" y="835.8" font-size="17.6" font-weight="bold" text-anchor="middle">1.2</text>
<line x1="1352.7" x2="1355.9" y1="623.2" y2="623.2" stroke="#000" stroke-width="1.9"/>
<line x1="1352.7" x2="1355.9" y1="708.1" y2="708.1" stroke="#000" stroke-width="1.9"/>
<line x1="1352.7" x2="1355.9" y1="793.1" y2="793.1" stroke="#000" stroke-width="1.9"/>
<text x="1488.5" y="589.8" font-size="17.9" font-weight="bold" text-anchor="middle">DOC (mg L<tspan dy="-7.8" dx="0.9" font-size="10.8">-1</tspan><tspan dy="7.8" dx="0.5">)</tspan></text>
</g>
<g>
<path d="M1710.6,623.2 L1884.2,708.1 L1665.1,793.1" fill="none" stroke="#ee5253" stroke-width="1.4"/>
<circle cx="1710.6" cy="623.2" r="6.6" fill="#ee5253"/>
<circle cx="1884.2" cy="708.1" r="6.6" fill="#ee5253"/>
<circle cx="1665.1" cy="793.1" r="6.6" fill="#ee5253"/>
<path d="M1706.6,623.2 L1823.6,708.1 L1665.1,793.1" fill="none" stroke="#5c9fd6" stroke-width="1.4"/>
<circle cx="1706.6" cy="623.2" r="6.6" fill="#5c9fd6"/>
<circle cx="1823.6" cy="708.1" r="6.6" fill="#5c9fd6"/>
<circle cx="1665.1" cy="793.1" r="6.6" fill="#5c9fd6"/>
<path d="M1703.8,623.2 L1843.1,708.1 L1665.1,793.1" fill="none" stroke="#80c97f" stroke-width="1.4"/>
<circle cx="1703.8" cy="623.2" r="6.6" fill="#80c97f"/>
<circle cx="1843.1" cy="708.1" r="6.6" fill="#80c97f"/>
<circle cx="1665.1" cy="793.1" r="6.6" fill="#80c97f"/>
<path d="M1713.0,623.2 L1890.4,708.1 L1665.1,793.1" fill="none" stroke="#b57fd0" stroke-width="1.4"/>
<circle cx="1713.0" cy="623.2" r="6.6" fill="#b57fd0"/>
<circle cx="1890.4" cy="708.1" r="6.6" fill="#b57fd0"/>
<circle cx="1665.1" cy="793.1" r="6.6" fill="#b57fd0"/>
<rect x="1646.8" y="602.0" width="263.5" height="212.2" fill="none" stroke="#000" stroke-width="1.9"/>
<line x1="1665.1" x2="1665.1" y1="815.1" y2="818.3" stroke="#000" stroke-width="1.9"/>
<text x="1665.1" y="835.8" font-size="17.6" font-weight="bold" text-anchor="middle">0.0</text>
<line x1="1740.5" x2="1740.5" y1="815.1" y2="818.3" stroke="#000" stroke-width="1.9"/>
<text x="1740.5" y="835.8" font-size="17.6" font-weight="bold" text-anchor="middle">0.2</text>
<line x1="1815.8" x2="1815.8" y1="815.1" y2="818.3" stroke="#000" stroke-width="1.9"/>
<text x="1815.8" y="835.8" font-size="17.6" font-weight="bold" text-anchor="middle">0.4</text>
<line x1="1891.2" x2="1891.2" y1="815.1" y2="818.3" stroke="#000" stroke-width="1.9"/>
<text x="1891.2" y="835.8" font-size="17.6" font-weight="bold" text-anchor="middle">0.6</text>
<line x1="1642.7" x2="1645.9" y1="623.2" y2="623.2" stroke="#000" stroke-width="1.9"/>
<line x1="1642.7" x2="1645.9" y1="708.1" y2="708.1" stroke="#000" stroke-width="1.9"/>
<line x1="1642.7" x2="1645.9" y1="793.1" y2="793.1" stroke="#000" stroke-width="1.9"/>
<text x="1778.5" y="589.8" font-size="17.9" font-weight="bold" text-anchor="middle">Chl-a (mg L<tspan dy="-7.8" dx="0.9" font-size="10.8">-1</tspan><tspan dy="7.8" dx="0.5">)</tspan></text>
</g>
<line x1="1082.3" x2="1114.6" y1="73.0" y2="73.0" stroke="#ee5253" stroke-width="1.4"/><circle cx="1098.2" cy="73.0" r="6.6" fill="#ee5253"/>
<text x="1118.3" y="77.7" font-size="14" font-weight="bold">E87-22</text>
<line x1="1082.3" x2="1114.6" y1="90.8" y2="90.8" stroke="#5c9fd6" stroke-width="1.4"/><circle cx="1098.2" cy="90.8" r="6.6" fill="#5c9fd6"/>
<text x="1118.3" y="95.5" font-size="14" font-weight="bold">E87-24</text>
<line x1="1082.3" x2="1114.6" y1="108.5" y2="108.5" stroke="#80c97f" stroke-width="1.4"/><circle cx="1098.2" cy="108.5" r="6.6" fill="#80c97f"/>
<text x="1118.3" y="113.2" font-size="14" font-weight="bold">E87-28</text>
<line x1="1082.3" x2="1114.6" y1="126.2" y2="126.2" stroke="#b57fd0" stroke-width="1.4"/><circle cx="1098.2" cy="126.2" r="6.6" fill="#b57fd0"/>
<text x="1118.3" y="130.9" font-size="14" font-weight="bold">E87-30</text>
<rect x="0" y="0" width="1920" height="1.1" fill="#c6c6c6"/>
<rect x="1916" y="0" width="3" height="852" fill="#f6f6f6"/>
<rect x="1919" y="0" width="1" height="852" fill="#8c8c8c"/>
<rect x="0" y="849" width="1920" height="3" fill="#000"/>
</svg></body></html>
